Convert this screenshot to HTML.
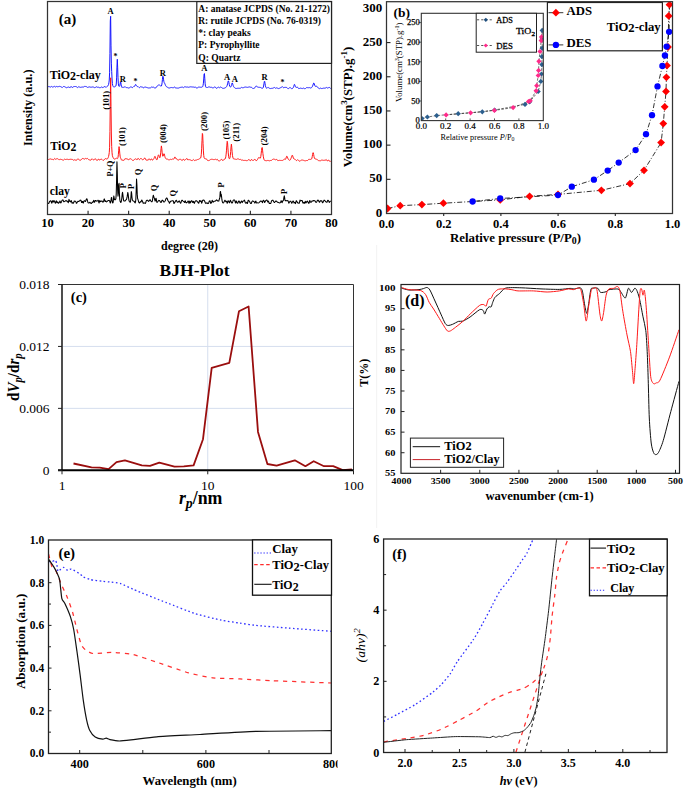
<!DOCTYPE html>
<html><head><meta charset="utf-8"><style>
html,body{margin:0;padding:0;background:#fff;}
body{width:685px;height:790px;overflow:hidden;font-family:"Liberation Serif",serif;}
svg{display:block;}
</style></head><body>
<svg width="685" height="790" viewBox="0 0 685 790">
<rect x="0" y="0" width="685" height="790" fill="#fff"/>
<polyline points="48.00,86.72 48.35,86.63 48.70,86.55 49.05,86.46 49.40,86.67 49.75,86.92 50.10,87.18 50.45,87.04 50.80,86.75 51.15,86.46 51.50,86.47 51.85,86.70 52.20,86.94 52.55,87.04 52.90,86.96 53.25,86.87 53.60,86.77 53.95,86.61 54.30,86.46 54.65,86.35 55.00,86.59 55.35,86.82 55.70,87.05 56.05,86.81 56.40,86.57 56.75,86.33 57.10,86.47 57.45,86.68 57.80,86.88 58.15,86.81 58.50,86.62 58.85,86.44 59.20,86.37 59.55,86.38 59.90,86.39 60.25,86.47 60.60,86.64 60.95,86.81 61.30,86.99 61.65,87.20 62.00,87.41 62.35,87.53 62.70,87.18 63.05,86.82 63.40,86.46 63.75,86.52 64.10,86.57 64.45,86.62 64.80,86.80 65.15,87.01 65.50,87.22 65.85,87.40 66.20,87.56 66.55,87.72 66.90,87.69 67.25,87.50 67.60,87.31 67.95,87.17 68.30,87.08 68.65,86.99 69.00,87.01 69.35,87.30 69.70,87.60 70.05,87.79 70.40,87.31 70.75,86.84 71.10,86.37 71.45,86.79 71.80,87.20 72.15,87.62 72.50,87.43 72.85,87.14 73.20,86.85 73.55,86.72 73.90,86.64 74.25,86.57 74.60,86.53 74.95,86.52 75.30,86.51 75.65,86.54 76.00,86.64 76.35,86.74 76.70,86.89 77.05,87.15 77.40,87.41 77.75,87.58 78.10,87.26 78.45,86.94 78.80,86.62 79.15,86.82 79.50,87.03 79.85,87.23 80.20,87.29 80.55,87.32 80.90,87.35 81.25,87.26 81.60,87.13 81.95,86.99 82.30,86.99 82.65,87.08 83.00,87.17 83.35,87.11 83.70,86.87 84.05,86.62 84.40,86.45 84.75,86.45 85.10,86.45 85.45,86.46 85.80,86.53 86.15,86.61 86.50,86.68 86.85,86.93 87.20,87.17 87.55,87.41 87.90,87.34 88.25,87.21 88.60,87.08 88.95,87.00 89.30,86.95 89.65,86.89 90.00,86.95 90.35,87.09 90.70,87.22 91.05,87.28 91.40,87.21 91.75,87.14 92.10,87.07 92.45,86.99 92.80,86.92 93.15,86.89 93.50,87.14 93.85,87.39 94.20,87.64 94.55,87.60 94.90,87.55 95.25,87.50 95.60,87.29 95.95,87.06 96.30,86.83 96.65,86.88 97.00,87.05 97.35,87.22 97.70,87.28 98.05,87.25 98.40,87.23 98.75,87.29 99.10,87.46 99.45,87.64 99.80,87.74 100.15,87.67 100.50,87.59 100.85,87.49 101.20,87.27 101.55,87.04 101.90,86.81 102.25,87.15 102.60,87.50 102.95,87.84 103.30,87.51 103.65,87.06 104.00,86.61 104.35,86.58 104.70,86.71 105.05,86.85 105.40,86.98 105.75,87.12 106.10,87.26 106.45,87.17 106.80,86.79 107.15,86.37 107.50,86.02 107.85,85.86 108.20,85.45 108.55,84.59 108.90,82.86 109.25,80.04 109.60,72.76 109.95,53.36 110.30,20.93 110.65,16.27 111.00,45.86 111.35,63.13 111.70,71.53 112.05,78.97 112.40,83.62 112.75,85.61 113.10,86.36 113.45,86.78 113.80,87.07 114.15,87.11 114.50,86.85 114.85,86.56 115.20,86.34 115.55,86.37 115.90,85.99 116.25,84.00 116.60,77.87 116.95,67.12 117.30,59.28 117.65,67.08 118.00,77.78 118.35,83.86 118.70,85.95 119.05,86.42 119.40,86.30 119.75,85.66 120.10,84.01 120.45,81.91 120.80,82.34 121.15,84.83 121.50,86.68 121.85,87.39 122.20,87.39 122.55,87.23 122.90,87.13 123.25,87.25 123.60,87.37 123.95,87.43 124.30,87.13 124.65,86.84 125.00,86.54 125.35,86.87 125.70,87.21 126.05,87.54 126.40,87.57 126.75,87.55 127.10,87.52 127.45,87.65 127.80,87.83 128.15,88.01 128.50,88.03 128.85,87.95 129.20,87.86 129.55,87.70 129.90,87.43 130.25,87.16 130.60,86.98 130.95,87.03 131.30,87.08 131.65,87.14 132.00,87.29 132.35,87.43 132.70,87.57 133.05,87.23 133.40,86.87 133.75,86.48 134.10,86.47 134.45,86.36 134.80,86.03 135.15,85.27 135.50,84.57 135.85,84.60 136.20,85.22 136.55,85.86 136.90,86.29 137.25,86.52 137.60,86.60 137.95,86.61 138.30,86.72 138.65,87.09 139.00,87.46 139.35,87.73 139.70,87.41 140.05,87.09 140.40,86.77 140.75,86.83 141.10,86.89 141.45,86.96 141.80,87.03 142.15,87.11 142.50,87.18 142.85,87.38 143.20,87.63 143.55,87.87 143.90,87.75 144.25,87.35 144.60,86.95 144.95,86.80 145.30,86.99 145.65,87.18 146.00,87.33 146.35,87.38 146.70,87.43 147.05,87.50 147.40,87.67 147.75,87.84 148.10,88.01 148.45,87.98 148.80,87.95 149.15,87.92 149.50,87.93 149.85,87.95 150.20,87.98 150.55,87.77 150.90,87.47 151.25,87.17 151.60,87.08 151.95,87.15 152.30,87.22 152.65,87.25 153.00,87.21 153.35,87.18 153.70,87.23 154.05,87.49 154.40,87.75 154.75,87.97 155.10,87.98 155.45,87.98 155.80,87.95 156.15,87.45 156.50,86.91 156.85,86.32 157.20,86.05 157.55,85.80 157.90,85.51 158.25,85.24 158.60,85.02 158.95,84.92 159.30,84.98 159.65,85.17 160.00,85.42 160.35,85.72 160.70,86.04 161.05,86.21 161.40,86.00 161.75,84.97 162.10,82.74 162.45,79.39 162.80,76.24 163.15,76.58 163.50,79.18 163.85,81.39 164.20,82.54 164.55,83.06 164.90,83.82 165.25,84.69 165.60,85.54 165.95,86.12 166.30,86.52 166.65,86.78 167.00,87.01 167.35,87.22 167.70,87.38 168.05,87.56 168.40,87.78 168.75,88.00 169.10,88.11 169.45,87.99 169.80,87.87 170.15,87.75 170.50,87.67 170.85,87.58 171.20,87.50 171.55,87.56 171.90,87.61 172.25,87.67 172.60,87.71 172.95,87.74 173.30,87.77 173.65,87.56 174.00,87.25 174.35,86.93 174.70,87.04 175.05,87.48 175.40,87.91 175.75,88.13 176.10,88.08 176.45,88.02 176.80,87.99 177.15,88.04 177.50,88.09 177.85,88.13 178.20,88.09 178.55,88.05 178.90,88.02 179.25,87.81 179.60,87.61 179.95,87.40 180.30,87.38 180.65,87.38 181.00,87.39 181.35,87.28 181.70,87.14 182.05,86.99 182.40,87.08 182.75,87.35 183.10,87.62 183.45,87.65 183.80,87.36 184.15,87.07 184.50,86.87 184.85,86.87 185.20,86.88 185.55,86.89 185.90,86.96 186.25,87.04 186.60,87.11 186.95,87.09 187.30,87.07 187.65,87.04 188.00,87.12 188.35,87.21 188.70,87.30 189.05,87.23 189.40,87.08 189.75,86.94 190.10,86.86 190.45,86.83 190.80,86.81 191.15,86.83 191.50,86.91 191.85,86.98 192.20,87.03 192.55,87.01 192.90,86.98 193.25,86.98 193.60,87.12 193.95,87.25 194.30,87.38 194.65,87.21 195.00,87.04 195.35,86.87 195.70,87.21 196.05,87.65 196.40,88.08 196.75,88.11 197.10,87.97 197.45,87.84 197.80,87.65 198.15,87.41 198.50,87.17 198.85,87.05 199.20,87.10 199.55,87.14 199.90,87.19 200.25,87.22 200.60,87.26 200.95,87.28 201.30,87.26 201.65,87.23 202.00,87.18 202.35,86.94 202.70,86.51 203.05,85.43 203.40,83.22 203.75,78.97 204.10,73.95 204.45,73.56 204.80,78.78 205.15,83.74 205.50,86.42 205.85,87.27 206.20,87.37 206.55,87.35 206.90,87.43 207.25,87.48 207.60,87.46 207.95,87.28 208.30,87.10 208.65,86.94 209.00,86.96 209.35,86.98 209.70,87.00 210.05,87.12 210.40,87.25 210.75,87.38 211.10,87.37 211.45,87.33 211.80,87.30 212.15,87.49 212.50,87.78 212.85,88.07 213.20,88.01 213.55,87.67 213.90,87.33 214.25,87.11 214.60,87.04 214.95,86.97 215.30,87.06 215.65,87.53 216.00,88.01 216.35,88.38 216.70,88.17 217.05,87.95 217.40,87.74 217.75,87.55 218.10,87.35 218.45,87.16 218.80,87.31 219.15,87.51 219.50,87.71 219.85,87.58 220.20,87.32 220.55,87.05 220.90,87.09 221.25,87.34 221.60,87.59 221.95,87.84 222.30,88.06 222.65,88.29 223.00,88.43 223.35,88.37 223.70,88.30 224.05,88.23 224.40,88.14 224.75,88.04 225.10,87.93 225.45,87.67 225.80,87.39 226.15,87.02 226.50,86.74 226.85,86.21 227.20,85.29 227.55,83.87 227.90,82.20 228.25,80.88 228.60,81.12 228.95,82.73 229.30,84.59 229.65,86.00 230.00,86.74 230.35,87.02 230.70,86.92 231.05,86.51 231.40,85.58 231.75,84.26 232.10,82.94 232.45,83.09 232.80,84.25 233.15,85.54 233.50,86.42 233.85,86.87 234.20,87.34 234.55,87.73 234.90,88.08 235.25,88.25 235.60,88.36 235.95,88.46 236.30,88.47 236.65,88.41 237.00,88.35 237.35,88.31 237.70,88.29 238.05,88.27 238.40,88.26 238.75,88.27 239.10,88.28 239.45,88.28 239.80,88.25 240.15,88.21 240.50,88.17 240.85,87.91 241.20,87.65 241.55,87.39 241.90,87.49 242.25,87.63 242.60,87.78 242.95,87.77 243.30,87.69 243.65,87.61 244.00,87.48 244.35,87.31 244.70,87.14 245.05,87.05 245.40,87.05 245.75,87.04 246.10,87.07 246.45,87.20 246.80,87.31 247.15,87.39 247.50,87.34 247.85,87.24 248.20,87.10 248.55,87.13 248.90,87.10 249.25,87.03 249.60,86.90 249.95,86.89 250.30,87.11 250.65,87.21 251.00,87.24 251.35,87.25 251.70,87.49 252.05,87.89 252.40,88.23 252.75,88.43 253.10,88.46 253.45,88.46 253.80,88.41 254.15,88.27 254.50,88.07 254.85,87.78 255.20,87.19 255.55,86.62 255.90,86.15 256.25,86.13 256.60,86.29 256.95,86.51 257.30,86.77 257.65,87.00 258.00,87.16 258.35,87.26 258.70,87.30 259.05,87.32 259.40,87.33 259.75,87.34 260.10,87.35 260.45,87.44 260.80,87.65 261.15,87.86 261.50,88.04 261.85,88.16 262.20,88.26 262.55,88.29 262.90,88.03 263.25,87.39 263.60,86.07 263.95,83.86 264.30,81.57 264.65,81.18 265.00,83.23 265.35,85.42 265.70,86.91 266.05,87.69 266.40,88.03 266.75,88.21 267.10,88.08 267.45,87.74 267.80,87.40 268.15,87.33 268.50,87.63 268.85,87.93 269.20,88.19 269.55,88.32 269.90,88.45 270.25,88.56 270.60,88.50 270.95,88.43 271.30,88.37 271.65,88.36 272.00,88.35 272.35,88.33 272.70,88.21 273.05,88.08 273.40,87.94 273.75,87.79 274.10,87.64 274.45,87.49 274.80,87.61 275.15,87.92 275.50,88.23 275.85,88.31 276.20,88.08 276.55,87.85 276.90,87.75 277.25,87.99 277.60,88.23 277.95,88.45 278.30,88.53 278.65,88.62 279.00,88.70 279.35,88.40 279.70,88.10 280.05,87.80 280.40,87.72 280.75,87.64 281.10,87.45 281.45,87.28 281.80,87.03 282.15,86.75 282.50,86.67 282.85,87.00 283.20,87.46 283.55,87.72 283.90,87.70 284.25,87.55 284.60,87.39 284.95,87.40 285.30,87.39 285.65,87.38 286.00,87.39 286.35,87.41 286.70,87.43 287.05,87.81 287.40,88.20 287.75,88.58 288.10,88.60 288.45,88.55 288.80,88.50 289.15,88.24 289.50,87.91 289.85,87.57 290.20,87.62 290.55,87.97 290.90,88.31 291.25,88.53 291.60,88.60 291.95,88.66 292.30,88.64 292.65,88.38 293.00,88.00 293.35,87.37 293.70,86.44 294.05,85.28 294.40,84.35 294.75,84.70 295.10,85.77 295.45,86.81 295.80,87.28 296.15,87.42 296.50,87.36 296.85,87.32 297.20,87.29 297.55,87.25 297.90,87.51 298.25,88.01 298.60,88.50 298.95,88.71 299.30,88.56 299.65,88.40 300.00,88.26 300.35,88.20 300.70,88.14 301.05,88.12 301.40,88.33 301.75,88.54 302.10,88.75 302.45,88.50 302.80,88.24 303.15,87.99 303.50,88.15 303.85,88.37 304.20,88.60 304.55,88.64 304.90,88.62 305.25,88.60 305.60,88.41 305.95,88.10 306.30,87.78 306.65,87.61 307.00,87.63 307.35,87.65 307.70,87.67 308.05,87.69 308.40,87.71 308.75,87.72 309.10,87.69 309.45,87.65 309.80,87.62 310.15,87.78 310.50,87.94 310.85,88.09 311.20,87.91 311.55,87.62 311.90,87.20 312.25,86.73 312.60,86.04 312.95,85.10 313.30,83.93 313.65,83.07 314.00,83.16 314.35,84.06 314.70,85.21 315.05,86.08 315.40,86.44 315.75,86.16 316.10,85.96 316.45,86.02 316.80,86.48 317.15,86.94 317.50,87.33 317.85,87.66 318.20,87.90 318.55,88.07 318.90,88.29 319.25,88.49 319.60,88.67 319.95,88.56 320.30,88.32 320.65,88.09 321.00,88.13 321.35,88.39 321.70,88.65 322.05,88.71 322.40,88.50 322.75,88.29 323.10,88.15 323.45,88.17 323.80,88.19 324.15,88.20 324.50,88.20 324.85,88.20 325.20,88.20 325.55,87.94 325.90,87.69 326.25,87.43 326.60,87.58 326.95,87.80 327.30,88.02 327.65,87.99 328.00,87.86 328.35,87.73 328.70,87.62 329.05,87.53 329.40,87.44 329.75,87.57 330.10,87.97 330.45,88.38 330.80,88.58" fill="none" stroke="#1414ff" stroke-width="1.0" stroke-linejoin="round" />
<polyline points="48.00,159.70 48.35,159.58 48.70,159.46 49.05,159.35 49.40,159.19 49.75,159.03 50.10,158.87 50.45,158.93 50.80,159.06 51.15,159.20 51.50,159.27 51.85,159.30 52.20,159.33 52.55,159.41 52.90,159.57 53.25,159.73 53.60,159.71 53.95,159.24 54.30,158.77 54.65,158.41 55.00,158.73 55.35,159.05 55.70,159.37 56.05,159.15 56.40,158.93 56.75,158.72 57.10,158.70 57.45,158.72 57.80,158.75 58.15,159.00 58.50,159.35 58.85,159.70 59.20,159.74 59.55,159.56 59.90,159.37 60.25,159.29 60.60,159.32 60.95,159.36 61.30,159.43 61.65,159.57 62.00,159.71 62.35,159.85 62.70,159.96 63.05,160.06 63.40,160.17 63.75,159.85 64.10,159.52 64.45,159.19 64.80,159.25 65.15,159.37 65.50,159.49 65.85,159.47 66.20,159.40 66.55,159.32 66.90,159.29 67.25,159.30 67.60,159.31 67.95,159.36 68.30,159.49 68.65,159.62 69.00,159.66 69.35,159.50 69.70,159.33 70.05,159.20 70.40,159.25 70.75,159.31 71.10,159.37 71.45,159.33 71.80,159.30 72.15,159.26 72.50,159.53 72.85,159.86 73.20,160.18 73.55,160.16 73.90,159.99 74.25,159.82 74.60,159.82 74.95,159.95 75.30,160.07 75.65,160.16 76.00,160.21 76.35,160.26 76.70,160.16 77.05,159.68 77.40,159.20 77.75,158.82 78.10,159.04 78.45,159.25 78.80,159.46 79.15,159.73 79.50,160.00 79.85,160.27 80.20,160.25 80.55,160.17 80.90,160.10 81.25,159.73 81.60,159.24 81.95,158.75 82.30,158.54 82.65,158.53 83.00,158.52 83.35,158.61 83.70,158.83 84.05,159.06 84.40,159.15 84.75,158.89 85.10,158.63 85.45,158.43 85.80,158.55 86.15,158.67 86.50,158.78 86.85,158.67 87.20,158.55 87.55,158.44 87.90,158.78 88.25,159.20 88.60,159.61 88.95,159.79 89.30,159.87 89.65,159.95 90.00,160.04 90.35,160.12 90.70,160.20 91.05,160.02 91.40,159.50 91.75,158.98 92.10,158.72 92.45,159.12 92.80,159.51 93.15,159.84 93.50,159.80 93.85,159.77 94.20,159.73 94.55,159.37 94.90,159.00 95.25,158.64 95.60,159.03 95.95,159.55 96.30,160.07 96.65,160.26 97.00,160.32 97.35,160.38 97.70,160.10 98.05,159.58 98.40,159.06 98.75,158.98 99.10,159.49 99.45,160.00 99.80,160.25 100.15,159.86 100.50,159.47 100.85,159.15 101.20,159.21 101.55,159.26 101.90,159.32 102.25,159.67 102.60,160.01 102.95,160.36 103.30,160.31 103.65,160.19 104.00,160.06 104.35,159.68 104.70,159.20 105.05,158.71 105.40,158.59 105.75,158.74 106.10,158.89 106.45,158.97 106.80,158.96 107.15,158.91 107.50,158.74 107.85,158.30 108.20,157.60 108.55,156.53 108.90,154.99 109.25,152.66 109.60,147.31 109.95,131.47 110.30,98.93 110.65,77.79 111.00,106.40 111.35,133.01 111.70,146.60 112.05,152.79 112.40,155.72 112.75,156.88 113.10,157.56 113.45,158.23 113.80,158.77 114.15,159.05 114.50,159.05 114.85,159.02 115.20,158.92 115.55,158.65 115.90,158.36 116.25,158.14 116.60,158.34 116.95,158.51 117.30,158.61 117.65,158.40 118.00,157.36 118.35,154.71 118.70,150.24 119.05,146.62 119.40,148.77 119.75,153.15 120.10,156.23 120.45,157.57 120.80,158.40 121.15,159.24 121.50,159.97 121.85,160.33 122.20,160.22 122.55,160.11 122.90,160.07 123.25,160.21 123.60,160.36 123.95,160.39 124.30,159.79 124.65,159.19 125.00,158.59 125.35,158.71 125.70,158.83 126.05,158.95 126.40,158.83 126.75,158.68 127.10,158.53 127.45,158.85 127.80,159.37 128.15,159.90 128.50,159.92 128.85,159.56 129.20,159.21 129.55,158.97 129.90,158.87 130.25,158.77 130.60,158.76 130.95,158.97 131.30,159.18 131.65,159.40 132.00,159.75 132.35,160.09 132.70,160.44 133.05,160.37 133.40,160.31 133.75,160.24 134.10,159.90 134.45,159.50 134.80,159.11 135.15,158.94 135.50,158.86 135.85,158.76 136.20,159.00 136.55,159.43 136.90,159.75 137.25,159.60 137.60,158.93 137.95,158.40 138.30,158.43 138.65,158.94 139.00,159.42 139.35,159.69 139.70,159.40 140.05,159.03 140.40,158.63 140.75,158.62 141.10,158.60 141.45,158.58 141.80,158.96 142.15,159.40 142.50,159.84 142.85,159.82 143.20,159.61 143.55,159.36 143.90,159.00 144.25,158.52 144.60,157.98 144.95,157.91 145.30,158.63 145.65,159.52 146.00,160.15 146.35,160.11 146.70,159.99 147.05,159.86 147.40,160.00 147.75,160.12 148.10,160.24 148.45,159.74 148.80,159.24 149.15,158.74 149.50,159.13 149.85,159.67 150.20,160.21 150.55,159.97 150.90,159.41 151.25,158.85 151.60,158.93 151.95,159.48 152.30,160.02 152.65,160.19 153.00,159.85 153.35,159.43 153.70,158.90 154.05,158.26 154.40,157.38 154.75,156.49 155.10,156.42 155.45,157.22 155.80,158.20 156.15,159.10 156.50,159.68 156.85,159.95 157.20,159.26 157.55,158.08 157.90,156.55 158.25,155.23 158.60,154.81 158.95,155.55 159.30,156.70 159.65,157.59 160.00,157.63 160.35,156.15 160.70,152.82 161.05,148.50 161.40,145.90 161.75,148.21 162.10,152.16 162.45,155.04 162.80,156.28 163.15,156.04 163.50,154.96 163.85,153.77 164.20,153.87 164.55,155.15 164.90,156.63 165.25,157.75 165.60,158.42 165.95,158.77 166.30,158.96 166.65,159.09 167.00,159.15 167.35,159.17 167.70,159.18 168.05,159.33 168.40,159.65 168.75,159.98 169.10,160.12 169.45,159.80 169.80,159.48 170.15,159.22 170.50,159.37 170.85,159.52 171.20,159.67 171.55,159.45 171.90,159.23 172.25,159.00 172.60,159.07 172.95,159.18 173.30,159.28 173.65,159.11 174.00,158.69 174.35,157.98 174.70,157.18 175.05,156.93 175.40,157.75 175.75,158.51 176.10,158.73 176.45,158.70 176.80,158.76 177.15,159.28 177.50,159.79 177.85,160.21 178.20,160.09 178.55,159.96 178.90,159.84 179.25,159.59 179.60,159.34 179.95,159.09 180.30,159.22 180.65,159.43 181.00,159.63 181.35,159.92 181.70,160.24 182.05,160.56 182.40,160.37 182.75,159.79 183.10,159.21 183.45,159.09 183.80,159.59 184.15,160.09 184.50,160.36 184.85,160.09 185.20,159.80 185.55,159.53 185.90,159.43 186.25,159.14 186.60,158.67 186.95,158.50 187.30,159.00 187.65,159.77 188.00,159.93 188.35,159.81 188.70,159.57 189.05,159.56 189.40,159.65 189.75,159.74 190.10,159.85 190.45,159.98 190.80,160.11 191.15,160.27 191.50,160.48 191.85,160.68 192.20,160.70 192.55,160.26 192.90,159.81 193.25,159.47 193.60,159.81 193.95,160.16 194.30,160.50 194.65,160.41 195.00,160.32 195.35,160.22 195.70,160.16 196.05,160.11 196.40,160.05 196.75,159.91 197.10,159.74 197.45,159.57 197.80,159.46 198.15,159.40 198.50,159.33 198.85,159.18 199.20,158.93 199.55,158.66 199.90,158.43 200.25,158.32 200.60,158.00 200.95,156.99 201.30,154.28 201.65,148.82 202.00,140.68 202.35,133.46 202.70,134.72 203.05,143.34 203.40,150.93 203.75,155.58 204.10,157.61 204.45,158.37 204.80,158.64 205.15,158.72 205.50,158.76 205.85,158.77 206.20,158.76 206.55,158.99 206.90,159.55 207.25,160.10 207.60,160.51 207.95,160.54 208.30,160.57 208.65,160.58 209.00,160.45 209.35,160.32 209.70,160.19 210.05,159.92 210.40,159.66 210.75,159.39 211.10,159.33 211.45,159.31 211.80,159.28 212.15,159.30 212.50,159.34 212.85,159.38 213.20,159.46 213.55,159.58 213.90,159.70 214.25,159.68 214.60,159.47 214.95,159.26 215.30,159.17 215.65,159.37 216.00,159.57 216.35,159.73 216.70,159.60 217.05,159.47 217.40,159.35 217.75,159.83 218.10,160.32 218.45,160.81 218.80,160.89 219.15,160.89 219.50,160.90 219.85,160.68 220.20,160.38 220.55,160.08 220.90,159.83 221.25,159.61 221.60,159.39 221.95,159.47 222.30,159.96 222.65,160.45 223.00,160.66 223.35,160.18 223.70,159.69 224.05,159.25 224.40,159.23 224.75,159.16 225.10,158.99 225.45,158.26 225.80,156.83 226.15,154.11 226.50,150.18 226.85,145.14 227.20,141.29 227.55,142.73 227.90,147.87 228.25,152.84 228.60,156.24 228.95,158.03 229.30,158.73 229.65,158.64 230.00,157.66 230.35,155.38 230.70,151.49 231.05,146.81 231.40,144.15 231.75,147.21 232.10,151.81 232.45,155.32 232.80,157.14 233.15,158.25 233.50,158.77 233.85,159.09 234.20,159.09 234.55,159.02 234.90,158.93 235.25,159.08 235.60,159.32 235.95,159.56 236.30,159.52 236.65,159.28 237.00,159.04 237.35,158.91 237.70,158.90 238.05,158.89 238.40,158.95 238.75,159.15 239.10,159.35 239.45,159.52 239.80,159.47 240.15,159.43 240.50,159.38 240.85,159.63 241.20,159.88 241.55,160.13 241.90,160.14 242.25,160.10 242.60,160.06 242.95,160.17 243.30,160.32 243.65,160.48 244.00,160.51 244.35,160.45 244.70,160.39 245.05,160.37 245.40,160.41 245.75,160.45 246.10,160.52 246.45,160.63 246.80,160.75 247.15,160.80 247.50,160.46 247.85,160.11 248.20,159.77 248.55,159.73 248.90,159.69 249.25,159.64 249.60,160.03 249.95,160.49 250.30,160.95 250.65,160.67 251.00,160.08 251.35,159.50 251.70,159.47 252.05,159.88 252.40,160.28 252.75,160.48 253.10,160.42 253.45,160.36 253.80,160.19 254.15,159.77 254.50,159.34 254.85,159.05 255.20,159.59 255.55,160.12 255.90,160.64 256.25,160.61 256.60,160.53 256.95,160.37 257.30,159.90 257.65,159.28 258.00,158.55 258.35,157.94 258.70,157.49 259.05,157.35 259.40,157.63 259.75,158.09 260.10,158.39 260.45,157.98 260.80,156.43 261.15,153.84 261.50,150.58 261.85,147.90 262.20,147.47 262.55,150.12 262.90,153.41 263.25,156.18 263.60,158.03 263.95,159.29 264.30,160.00 264.65,160.45 265.00,160.56 265.35,160.60 265.70,160.61 266.05,160.65 266.40,160.69 266.75,160.72 267.10,160.65 267.45,160.49 267.80,160.33 268.15,160.33 268.50,160.56 268.85,160.78 269.20,160.90 269.55,160.76 269.90,160.62 270.25,160.50 270.60,160.51 270.95,160.52 271.30,160.53 271.65,160.21 272.00,159.89 272.35,159.57 272.70,159.41 273.05,159.27 273.40,159.13 273.75,159.15 274.10,159.22 274.45,159.29 274.80,159.42 275.15,159.58 275.50,159.74 275.85,159.75 276.20,159.58 276.55,159.40 276.90,159.42 277.25,159.93 277.60,160.44 277.95,160.86 278.30,160.66 278.65,160.47 279.00,160.28 279.35,160.32 279.70,160.37 280.05,160.42 280.40,160.43 280.75,160.42 281.10,160.42 281.45,160.45 281.80,160.48 282.15,160.52 282.50,160.45 282.85,160.31 283.20,160.16 283.55,159.93 283.90,159.56 284.25,159.17 284.60,158.98 284.95,159.31 285.30,159.43 285.65,159.19 286.00,158.18 286.35,157.05 286.70,156.27 287.05,156.33 287.40,157.13 287.75,158.03 288.10,158.89 288.45,159.49 288.80,159.84 289.15,160.07 289.50,160.21 289.85,160.31 290.20,160.05 290.55,159.47 290.90,158.62 291.25,157.73 291.60,156.85 291.95,155.74 292.30,155.12 292.65,155.65 293.00,156.90 293.35,157.95 293.70,158.70 294.05,159.02 294.40,159.08 294.75,159.29 295.10,159.46 295.45,159.62 295.80,159.93 296.15,160.27 296.50,160.60 296.85,160.44 297.20,160.08 297.55,159.72 297.90,159.78 298.25,160.16 298.60,160.54 298.95,160.83 299.30,161.00 299.65,161.16 300.00,161.19 300.35,160.85 300.70,160.52 301.05,160.22 301.40,160.14 301.75,160.07 302.10,159.99 302.45,160.06 302.80,160.13 303.15,160.20 303.50,160.33 303.85,160.48 304.20,160.62 304.55,160.70 304.90,160.76 305.25,160.82 305.60,160.78 305.95,160.68 306.30,160.57 306.65,160.52 307.00,160.53 307.35,160.55 307.70,160.44 308.05,160.04 308.40,159.64 308.75,159.30 309.10,159.34 309.45,159.37 309.80,159.39 310.15,159.43 310.50,159.43 310.85,159.34 311.20,159.30 311.55,158.98 311.90,158.21 312.25,156.51 312.60,154.40 312.95,152.69 313.30,152.80 313.65,154.51 314.00,156.50 314.35,157.95 314.70,158.61 315.05,158.84 315.40,158.88 315.75,159.07 316.10,159.17 316.45,159.26 316.80,159.43 317.15,159.59 317.50,159.75 317.85,160.05 318.20,160.34 318.55,160.63 318.90,160.69 319.25,160.71 319.60,160.73 319.95,160.73 320.30,160.73 320.65,160.72 321.00,160.56 321.35,160.30 321.70,160.03 322.05,159.95 322.40,160.11 322.75,160.27 323.10,160.37 323.45,160.34 323.80,160.31 324.15,160.28 324.50,160.28 324.85,160.28 325.20,160.29 325.55,160.05 325.90,159.81 326.25,159.56 326.60,160.00 326.95,160.54 327.30,161.09 327.65,160.89 328.00,160.41 328.35,159.93 328.70,160.03 329.05,160.58 329.40,161.13 329.75,161.43 330.10,161.40 330.45,161.37 330.80,161.17" fill="none" stroke="#ff1414" stroke-width="1.0" stroke-linejoin="round" />
<polyline points="48.00,203.01 48.35,203.28 48.70,203.54 49.05,202.79 49.40,201.87 49.75,201.38 50.10,201.06 50.45,200.86 50.80,200.75 51.15,201.25 51.50,202.56 51.85,203.12 52.20,201.82 52.55,200.79 52.90,201.45 53.25,202.11 53.60,201.33 53.95,200.55 54.30,201.02 54.65,201.69 55.00,202.43 55.35,203.19 55.70,202.69 56.05,201.23 56.40,200.92 56.75,202.14 57.10,202.86 57.45,202.30 57.80,201.93 58.15,202.60 58.50,203.27 58.85,202.94 59.20,202.61 59.55,201.85 59.90,201.01 60.25,201.62 60.60,202.80 60.95,202.89 61.30,202.16 61.65,201.39 62.00,200.57 62.35,199.98 62.70,199.94 63.05,200.03 63.40,200.89 63.75,201.76 64.10,201.69 64.45,201.61 64.80,201.38 65.15,201.11 65.50,200.83 65.85,200.54 66.20,200.62 66.55,200.98 66.90,201.16 67.25,201.11 67.60,201.33 67.95,202.23 68.30,202.76 68.65,201.14 69.00,199.39 69.35,200.34 69.70,201.24 70.05,201.39 70.40,201.83 70.75,201.40 71.10,200.48 71.45,200.97 71.80,202.50 72.15,203.20 72.50,202.84 72.85,202.67 73.20,203.01 73.55,203.15 73.90,202.07 74.25,200.98 74.60,201.13 74.95,201.28 75.30,201.33 75.65,201.37 76.00,202.15 76.35,203.22 76.70,203.27 77.05,202.54 77.40,201.95 77.75,201.55 78.10,201.29 78.45,201.41 78.80,201.47 79.15,201.20 79.50,200.93 79.85,200.53 80.20,200.13 80.55,200.15 80.90,200.24 81.25,201.20 81.60,202.50 81.95,202.49 82.30,201.52 82.65,201.45 83.00,202.60 83.35,203.07 83.70,201.85 84.05,200.80 84.40,200.82 84.75,200.83 85.10,201.20 85.45,201.50 85.80,200.77 86.15,199.67 86.50,199.04 86.85,198.75 87.20,199.54 87.55,201.23 87.90,202.45 88.25,202.82 88.60,202.97 88.95,202.96 89.30,202.86 89.65,202.55 90.00,202.24 90.35,202.75 90.70,203.26 91.05,203.37 91.40,203.42 91.75,202.94 92.10,202.24 92.45,202.12 92.80,202.41 93.15,202.07 93.50,200.87 93.85,200.35 94.20,201.50 94.55,202.32 94.90,201.53 95.25,200.56 95.60,200.52 95.95,200.67 96.30,200.82 96.65,201.19 97.00,201.19 97.35,200.90 97.70,200.57 98.05,200.22 98.40,200.68 98.75,202.25 99.10,202.96 99.45,201.54 99.80,200.42 100.15,201.03 100.50,201.64 100.85,201.40 101.20,201.17 101.55,201.05 101.90,200.93 102.25,201.39 102.60,201.97 102.95,202.15 103.30,201.95 103.65,200.93 104.00,199.27 104.35,198.95 104.70,200.37 105.05,201.50 105.40,201.26 105.75,200.83 106.10,201.37 106.45,201.85 106.80,201.68 107.15,201.40 107.50,201.03 107.85,200.63 108.20,200.45 108.55,200.44 108.90,200.46 109.25,200.53 109.60,200.93 109.95,202.14 110.30,203.05 110.65,202.10 111.00,200.32 111.35,197.66 111.70,197.45 112.05,200.48 112.40,202.52 112.75,203.01 113.10,202.50 113.45,199.58 113.80,195.92 114.15,197.76 114.50,199.57 114.85,199.79 115.20,199.85 115.55,199.65 115.90,198.52 116.25,193.59 116.60,179.33 116.95,161.75 117.30,173.38 117.65,190.30 118.00,196.21 118.35,193.25 118.70,184.36 119.05,183.30 119.40,193.15 119.75,199.23 120.10,201.26 120.45,202.10 120.80,202.55 121.15,201.97 121.50,200.64 121.85,197.73 122.20,193.96 122.55,192.36 122.90,194.82 123.25,198.05 123.60,200.23 123.95,201.03 124.30,201.06 124.65,200.96 125.00,200.92 125.35,200.72 125.70,200.19 126.05,199.67 126.40,199.53 126.75,198.48 127.10,196.91 127.45,194.59 127.80,192.42 128.15,194.00 128.50,197.34 128.85,200.00 129.20,201.23 129.55,201.70 129.90,202.02 130.25,202.21 130.60,201.03 130.95,196.66 131.30,191.49 131.65,193.20 132.00,197.59 132.35,199.81 132.70,200.40 133.05,200.77 133.40,201.08 133.75,201.22 134.10,201.29 134.45,201.80 134.80,202.62 135.15,202.90 135.50,202.13 135.85,199.11 136.20,190.16 136.55,178.96 136.90,184.84 137.25,194.14 137.60,198.46 137.95,199.41 138.30,200.67 138.65,201.98 139.00,202.62 139.35,203.00 139.70,202.74 140.05,202.01 140.40,201.68 140.75,201.90 141.10,201.75 141.45,200.72 141.80,199.93 142.15,200.63 142.50,201.33 142.85,202.28 143.20,203.23 143.55,203.21 143.90,203.03 144.25,203.02 144.60,203.07 144.95,203.21 145.30,203.42 145.65,202.98 146.00,201.69 146.35,200.70 146.70,200.44 147.05,200.23 147.40,200.29 147.75,200.34 148.10,200.91 148.45,201.36 148.80,201.27 149.15,200.81 149.50,200.23 149.85,199.82 150.20,199.86 150.55,200.38 150.90,201.03 151.25,201.54 151.60,201.77 151.95,201.81 152.30,201.17 152.65,199.14 153.00,196.55 153.35,195.24 153.70,196.31 154.05,197.61 154.40,198.36 154.75,199.85 155.10,201.13 155.45,200.40 155.80,198.45 156.15,198.34 156.50,200.58 156.85,202.27 157.20,202.33 157.55,202.06 157.90,201.53 158.25,200.95 158.60,200.66 158.95,200.36 159.30,200.51 159.65,200.74 160.00,201.29 160.35,201.98 160.70,202.33 161.05,202.45 161.40,202.06 161.75,201.02 162.10,200.26 162.45,200.18 162.80,200.23 163.15,201.03 163.50,201.83 163.85,201.93 164.20,202.01 164.55,201.70 164.90,201.28 165.25,200.72 165.60,199.78 165.95,198.85 166.30,198.13 166.65,197.92 167.00,198.20 167.35,198.86 167.70,200.09 168.05,200.86 168.40,201.23 168.75,201.54 169.10,202.42 169.45,203.27 169.80,202.78 170.15,201.87 170.50,201.39 170.85,201.15 171.20,200.99 171.55,200.97 171.90,200.97 172.25,200.87 172.60,200.69 172.95,200.76 173.30,200.97 173.65,202.25 174.00,203.52 174.35,203.07 174.70,202.62 175.05,201.95 175.40,201.25 175.75,200.69 176.10,200.18 176.45,200.45 176.80,201.30 177.15,201.91 177.50,202.23 177.85,202.32 178.20,201.87 178.55,201.44 178.90,201.16 179.25,200.87 179.60,201.60 179.95,202.32 180.30,202.82 180.65,203.28 181.00,202.52 181.35,201.28 181.70,200.56 182.05,200.22 182.40,200.25 182.75,200.79 183.10,201.22 183.45,201.37 183.80,201.56 184.15,202.02 184.50,202.49 184.85,201.63 185.20,200.77 185.55,201.56 185.90,202.62 186.25,202.85 186.60,202.75 186.95,202.47 187.30,202.05 187.65,201.59 188.00,201.05 188.35,201.06 188.70,202.42 189.05,203.41 189.40,202.25 189.75,201.08 190.10,201.98 190.45,202.88 190.80,202.12 191.15,201.07 191.50,200.76 191.85,200.74 192.20,201.28 192.55,202.24 192.90,202.43 193.25,201.61 193.60,201.35 193.95,202.51 194.30,203.40 194.65,202.59 195.00,201.78 195.35,201.23 195.70,200.69 196.05,200.66 196.40,200.73 196.75,200.99 197.10,201.33 197.45,201.73 197.80,202.17 198.15,202.64 198.50,203.14 198.85,203.09 199.20,201.67 199.55,200.51 199.90,200.95 200.25,201.39 200.60,201.07 200.95,200.75 201.30,201.86 201.65,203.21 202.00,202.54 202.35,201.07 202.70,200.34 203.05,200.18 203.40,200.10 203.75,200.11 204.10,200.29 204.45,200.88 204.80,201.52 205.15,202.41 205.50,203.31 205.85,203.28 206.20,203.26 206.55,203.02 206.90,202.76 207.25,203.01 207.60,203.48 207.95,203.62 208.30,203.50 208.65,202.98 209.00,201.91 209.35,201.07 209.70,200.82 210.05,200.79 210.40,202.12 210.75,203.45 211.10,203.11 211.45,202.77 211.80,201.64 212.15,200.37 212.50,200.81 212.85,201.93 213.20,202.12 213.55,201.61 213.90,201.32 214.25,201.31 214.60,201.28 214.95,201.20 215.30,201.09 215.65,200.80 216.00,200.50 216.35,200.20 216.70,199.90 217.05,200.26 217.40,200.73 217.75,200.92 218.10,200.92 218.45,201.12 218.80,201.02 219.15,199.70 219.50,198.79 219.85,197.68 220.20,192.10 220.55,191.43 220.90,196.31 221.25,194.26 221.60,196.90 221.95,199.95 222.30,201.60 222.65,202.60 223.00,202.90 223.35,202.93 223.70,202.56 224.05,201.88 224.40,201.20 224.75,200.53 225.10,200.27 225.45,201.03 225.80,201.65 226.15,201.47 226.50,201.30 226.85,202.27 227.20,203.24 227.55,202.28 227.90,200.99 228.25,200.84 228.60,201.14 228.95,201.81 229.30,202.76 229.65,202.64 230.00,201.10 230.35,200.20 230.70,200.88 231.05,201.56 231.40,202.27 231.75,202.98 232.10,202.90 232.45,202.82 232.80,201.70 233.15,200.42 233.50,200.04 233.85,200.03 234.20,200.06 234.55,200.11 234.90,200.79 235.25,202.31 235.60,203.06 235.95,201.88 236.30,201.00 236.65,201.87 237.00,202.74 237.35,203.00 237.70,203.27 238.05,202.46 238.40,201.47 238.75,201.10 239.10,200.98 239.45,201.63 239.80,202.84 240.15,203.28 240.50,202.67 240.85,202.06 241.20,201.43 241.55,201.01 241.90,201.81 242.25,202.62 242.60,201.91 242.95,201.20 243.30,201.04 243.65,200.97 244.00,200.60 244.35,200.12 244.70,200.67 245.05,202.01 245.40,202.89 245.75,203.18 246.10,203.24 246.45,202.74 246.80,202.39 247.15,202.93 247.50,203.48 247.85,201.85 248.20,200.22 248.55,200.31 248.90,200.68 249.25,201.09 249.60,201.52 249.95,202.19 250.30,203.05 250.65,203.53 251.00,203.53 251.35,203.24 251.70,202.23 252.05,201.33 252.40,201.09 252.75,200.85 253.10,201.17 253.45,201.49 253.80,201.63 254.15,201.74 254.50,202.32 254.85,203.09 255.20,202.67 255.55,201.35 255.90,201.06 256.25,202.16 256.60,202.92 256.95,202.80 257.30,202.73 257.65,202.88 258.00,203.02 258.35,202.94 258.70,202.85 259.05,202.58 259.40,202.29 259.75,201.85 260.10,201.36 260.45,201.14 260.80,201.12 261.15,201.14 261.50,201.22 261.85,201.49 262.20,202.23 262.55,202.69 262.90,201.45 263.25,200.20 263.60,200.41 263.95,200.62 264.30,201.49 264.65,202.48 265.00,202.12 265.35,201.22 265.70,200.65 266.05,200.33 266.40,200.12 266.75,200.07 267.10,200.29 267.45,201.21 267.80,201.94 268.15,201.54 268.50,201.14 268.85,202.30 269.20,203.46 269.55,203.47 269.90,203.30 270.25,203.39 270.60,203.57 270.95,202.92 271.30,201.64 271.65,200.77 272.00,200.44 272.35,200.22 272.70,200.24 273.05,200.36 273.40,201.08 273.75,201.79 274.10,202.16 274.45,202.54 274.80,202.19 275.15,201.73 275.50,201.32 275.85,200.94 276.20,200.97 276.55,201.29 276.90,201.63 277.25,201.99 277.60,202.27 277.95,202.37 278.30,202.47 278.65,202.60 279.00,202.72 279.35,202.90 279.70,203.07 280.05,202.81 280.40,202.48 280.75,201.70 281.10,200.73 281.45,201.03 281.80,202.29 282.15,202.58 282.50,201.55 282.85,200.81 283.20,200.76 283.55,199.92 283.90,197.69 284.25,195.85 284.60,197.43 284.95,200.04 285.30,200.74 285.65,200.49 286.00,200.52 286.35,200.69 286.70,200.76 287.05,200.77 287.40,200.71 287.75,200.56 288.10,200.82 288.45,202.12 288.80,203.16 289.15,202.62 289.50,202.08 289.85,201.63 290.20,201.19 290.55,201.23 290.90,201.36 291.25,202.15 291.60,203.21 291.95,203.17 292.30,202.31 292.65,201.61 293.00,201.12 293.35,201.07 293.70,202.09 294.05,202.93 294.40,202.65 294.75,202.38 295.10,202.98 295.45,203.58 295.80,202.31 296.15,200.74 296.50,200.76 296.85,201.42 297.20,202.05 297.55,202.66 297.90,203.03 298.25,203.06 298.60,203.13 298.95,203.26 299.30,203.15 299.65,201.60 300.00,200.05 300.35,200.50 300.70,200.95 301.05,200.75 301.40,200.44 301.75,200.44 302.10,200.56 302.45,201.41 302.80,202.80 303.15,203.30 303.50,202.61 303.85,202.29 304.20,202.91 304.55,203.29 304.90,202.30 305.25,201.31 305.60,202.19 305.95,203.06 306.30,202.56 306.65,201.82 307.00,201.37 307.35,201.03 307.70,201.41 308.05,202.33 308.40,202.98 308.75,203.28 309.10,203.07 309.45,201.58 309.80,200.43 310.15,201.29 310.50,202.16 310.85,202.21 311.20,202.25 311.55,201.64 311.90,200.93 312.25,200.92 312.60,201.19 312.95,201.07 313.30,200.67 313.65,200.48 314.00,200.59 314.35,200.70 314.70,200.79 315.05,200.96 315.40,201.57 315.75,202.18 316.10,202.27 316.45,202.36 316.80,201.69 317.15,200.90 317.50,200.43 317.85,200.09 318.20,200.26 318.55,200.82 318.90,201.41 319.25,202.03 319.60,202.23 319.95,201.35 320.30,200.64 320.65,200.86 321.00,201.09 321.35,200.89 321.70,200.70 322.05,201.57 322.40,202.62 322.75,202.61 323.10,202.17 323.45,201.49 323.80,200.63 324.15,200.17 324.50,200.24 324.85,200.43 325.20,200.95 325.55,201.44 325.90,201.72 326.25,201.99 326.60,202.15 326.95,202.31 327.30,201.50 327.65,200.52 328.00,200.34 328.35,200.47 328.70,201.06 329.05,202.00 329.40,202.32 329.75,201.82 330.10,201.39 330.45,201.17 330.80,200.98" fill="none" stroke="#000" stroke-width="1.05" stroke-linejoin="round" />
<rect x="47.50" y="1.50" width="284.00" height="213.00" fill="none" stroke="#333" stroke-width="1.25"/>
<text x="47.50" y="227.40" font-family="Liberation Serif" font-size="12.5" font-weight="bold" text-anchor="middle" fill="#000">10</text>
<line x1="88.07" y1="214.50" x2="88.07" y2="210.80" stroke="#222" stroke-width="1.1"/>
<text x="88.07" y="227.40" font-family="Liberation Serif" font-size="12.5" font-weight="bold" text-anchor="middle" fill="#000">20</text>
<line x1="128.64" y1="214.50" x2="128.64" y2="210.80" stroke="#222" stroke-width="1.1"/>
<text x="128.64" y="227.40" font-family="Liberation Serif" font-size="12.5" font-weight="bold" text-anchor="middle" fill="#000">30</text>
<line x1="169.21" y1="214.50" x2="169.21" y2="210.80" stroke="#222" stroke-width="1.1"/>
<text x="169.21" y="227.40" font-family="Liberation Serif" font-size="12.5" font-weight="bold" text-anchor="middle" fill="#000">40</text>
<line x1="209.79" y1="214.50" x2="209.79" y2="210.80" stroke="#222" stroke-width="1.1"/>
<text x="209.79" y="227.40" font-family="Liberation Serif" font-size="12.5" font-weight="bold" text-anchor="middle" fill="#000">50</text>
<line x1="250.36" y1="214.50" x2="250.36" y2="210.80" stroke="#222" stroke-width="1.1"/>
<text x="250.36" y="227.40" font-family="Liberation Serif" font-size="12.5" font-weight="bold" text-anchor="middle" fill="#000">60</text>
<line x1="290.93" y1="214.50" x2="290.93" y2="210.80" stroke="#222" stroke-width="1.1"/>
<text x="290.93" y="227.40" font-family="Liberation Serif" font-size="12.5" font-weight="bold" text-anchor="middle" fill="#000">70</text>
<text x="331.50" y="227.40" font-family="Liberation Serif" font-size="12.5" font-weight="bold" text-anchor="middle" fill="#000">80</text>
<text x="161.00" y="249.50" font-family="Liberation Serif" font-size="12.5" font-weight="bold" text-anchor="start" fill="#000" textLength="57" lengthAdjust="spacingAndGlyphs">degree (2θ)</text>
<text x="32.00" y="146.00" font-family="Liberation Serif" font-size="12.5" font-weight="bold" text-anchor="start" fill="#000" transform="rotate(-90 32.00 146.00)" textLength="76.5" lengthAdjust="spacingAndGlyphs">Intensity (a.u.)</text>
<text x="58.80" y="23.50" font-family="Liberation Serif" font-size="15" font-weight="bold" text-anchor="start" fill="#000">(a)</text>
<rect x="196.80" y="1.60" width="134.70" height="61.80" fill="#fff" stroke="#222" stroke-width="1.2"/>
<text x="198.30" y="11.80" font-family="Liberation Serif" font-size="9.5" font-weight="bold" text-anchor="start" fill="#000" textLength="131.5" lengthAdjust="spacingAndGlyphs">A: anatase JCPDS (No. 21-1272)</text>
<text x="198.30" y="24.00" font-family="Liberation Serif" font-size="9.5" font-weight="bold" text-anchor="start" fill="#000" textLength="122.5" lengthAdjust="spacingAndGlyphs">R: rutile JCPDS (No. 76-0319)</text>
<text x="198.30" y="36.20" font-family="Liberation Serif" font-size="9.5" font-weight="bold" text-anchor="start" fill="#000" textLength="52.4" lengthAdjust="spacingAndGlyphs">*: clay peaks</text>
<text x="198.30" y="48.40" font-family="Liberation Serif" font-size="9.5" font-weight="bold" text-anchor="start" fill="#000" textLength="61.3" lengthAdjust="spacingAndGlyphs">P: Pyrophyllite</text>
<text x="198.30" y="60.60" font-family="Liberation Serif" font-size="9.5" font-weight="bold" text-anchor="start" fill="#000" textLength="42.2" lengthAdjust="spacingAndGlyphs">Q: Quartz</text>
<text x="48.00" y="0.00" font-family="Liberation Serif" font-size="1" font-weight="bold" text-anchor="start" fill="#000"></text>
<text x="49.70" y="78.90" font-family="Liberation Serif" font-size="12.5" font-weight="bold" text-anchor="start" fill="#000" textLength="51" lengthAdjust="spacingAndGlyphs">TiO<tspan dy="1.5">2</tspan><tspan dy="-1.5">-clay</tspan></text>
<text x="50.30" y="149.70" font-family="Liberation Serif" font-size="12.5" font-weight="bold" text-anchor="start" fill="#000" textLength="26" lengthAdjust="spacingAndGlyphs">TiO<tspan dy="1.5">2</tspan></text>
<text x="49.80" y="195.00" font-family="Liberation Serif" font-size="12.5" font-weight="bold" text-anchor="start" fill="#000" textLength="20" lengthAdjust="spacingAndGlyphs">clay</text>
<text x="110.60" y="14.20" font-family="Liberation Serif" font-size="8.5" font-weight="bold" text-anchor="middle" fill="#000">A</text>
<text x="122.90" y="81.50" font-family="Liberation Serif" font-size="8.5" font-weight="bold" text-anchor="middle" fill="#000">R</text>
<text x="162.90" y="76.00" font-family="Liberation Serif" font-size="8.5" font-weight="bold" text-anchor="middle" fill="#000">R</text>
<text x="204.30" y="71.00" font-family="Liberation Serif" font-size="8.5" font-weight="bold" text-anchor="middle" fill="#000">A</text>
<text x="227.00" y="80.40" font-family="Liberation Serif" font-size="8.5" font-weight="bold" text-anchor="middle" fill="#000">A</text>
<text x="234.90" y="81.80" font-family="Liberation Serif" font-size="8.5" font-weight="bold" text-anchor="middle" fill="#000">A</text>
<text x="264.50" y="80.40" font-family="Liberation Serif" font-size="8.5" font-weight="bold" text-anchor="middle" fill="#000">R</text>
<text x="115.50" y="59.00" font-family="Liberation Serif" font-size="8" font-weight="bold" text-anchor="middle" fill="#000">*</text>
<text x="135.60" y="84.00" font-family="Liberation Serif" font-size="8" font-weight="bold" text-anchor="middle" fill="#000">*</text>
<text x="282.40" y="84.80" font-family="Liberation Serif" font-size="8" font-weight="bold" text-anchor="middle" fill="#000">*</text>
<text x="108.80" y="100.20" font-family="Liberation Serif" font-size="8.5" font-weight="bold" text-anchor="middle" fill="#000" transform="rotate(-90 108.80 100.20)" textLength="19" lengthAdjust="spacingAndGlyphs">(101)</text>
<text x="125.30" y="136.50" font-family="Liberation Serif" font-size="8.5" font-weight="bold" text-anchor="middle" fill="#000" transform="rotate(-90 125.30 136.50)" textLength="19" lengthAdjust="spacingAndGlyphs">(101)</text>
<text x="165.50" y="133.50" font-family="Liberation Serif" font-size="8.5" font-weight="bold" text-anchor="middle" fill="#000" transform="rotate(-90 165.50 133.50)" textLength="19" lengthAdjust="spacingAndGlyphs">(004)</text>
<text x="207.30" y="121.40" font-family="Liberation Serif" font-size="8.5" font-weight="bold" text-anchor="middle" fill="#000" transform="rotate(-90 207.30 121.40)" textLength="19" lengthAdjust="spacingAndGlyphs">(200)</text>
<text x="229.00" y="130.10" font-family="Liberation Serif" font-size="8.5" font-weight="bold" text-anchor="middle" fill="#000" transform="rotate(-90 229.00 130.10)" textLength="19" lengthAdjust="spacingAndGlyphs">(105)</text>
<text x="238.80" y="132.30" font-family="Liberation Serif" font-size="8.5" font-weight="bold" text-anchor="middle" fill="#000" transform="rotate(-90 238.80 132.30)" textLength="19" lengthAdjust="spacingAndGlyphs">(211)</text>
<text x="267.30" y="135.90" font-family="Liberation Serif" font-size="8.5" font-weight="bold" text-anchor="middle" fill="#000" transform="rotate(-90 267.30 135.90)" textLength="19" lengthAdjust="spacingAndGlyphs">(204)</text>
<text x="113.00" y="168.60" font-family="Liberation Serif" font-size="8" font-weight="bold" text-anchor="middle" fill="#000" transform="rotate(-90 113.00 168.60)" textLength="16" lengthAdjust="spacingAndGlyphs">P+Q</text>
<text x="125.70" y="185.70" font-family="Liberation Serif" font-size="7.5" font-weight="bold" text-anchor="middle" fill="#000" transform="rotate(-90 125.70 185.70)" textLength="5.5" lengthAdjust="spacingAndGlyphs">P</text>
<text x="133.60" y="186.60" font-family="Liberation Serif" font-size="7.5" font-weight="bold" text-anchor="middle" fill="#000" transform="rotate(-90 133.60 186.60)" textLength="5.5" lengthAdjust="spacingAndGlyphs">P</text>
<text x="223.60" y="185.10" font-family="Liberation Serif" font-size="7.5" font-weight="bold" text-anchor="middle" fill="#000" transform="rotate(-90 223.60 185.10)" textLength="5.5" lengthAdjust="spacingAndGlyphs">P</text>
<text x="287.50" y="191.60" font-family="Liberation Serif" font-size="7.5" font-weight="bold" text-anchor="middle" fill="#000" transform="rotate(-90 287.50 191.60)" textLength="5.5" lengthAdjust="spacingAndGlyphs">P</text>
<text x="141.20" y="171.90" font-family="Liberation Serif" font-size="8.5" font-weight="bold" text-anchor="middle" fill="#000" transform="rotate(-90 141.20 171.90)">Q</text>
<text x="157.20" y="187.90" font-family="Liberation Serif" font-size="8.5" font-weight="bold" text-anchor="middle" fill="#000" transform="rotate(-90 157.20 187.90)">Q</text>
<text x="176.50" y="193.20" font-family="Liberation Serif" font-size="8.5" font-weight="bold" text-anchor="middle" fill="#000" transform="rotate(-90 176.50 193.20)">Q</text>
<clipPath id="cb"><rect x="386.5" y="1.7" width="286.0" height="211.8"/></clipPath><g clip-path="url(#cb)">
<polyline points="387.60,208.50 400.20,205.70 421.90,204.60 443.40,203.20 500.20,199.90 529.60,196.30 558.00,194.40 601.40,190.30 630.00,183.60 644.00,170.30 661.10,142.60 663.30,123.60 664.70,106.80 666.00,91.40 666.40,77.30 667.00,65.60 668.00,47.00 668.70,15.90 669.50,4.70" fill="none" stroke="#000" stroke-width="0.8" stroke-dasharray="5,2,1,2" stroke-linejoin="round" />
<polyline points="669.50,4.70 669.10,31.80 666.60,46.60 664.90,55.50 662.40,66.00 657.50,86.40 652.00,115.20 646.00,134.20 635.60,150.10 618.70,162.60 607.70,170.60 593.90,179.70 571.80,186.70 558.00,195.10 500.20,198.50 472.60,201.50" fill="none" stroke="#000" stroke-width="0.8" stroke-dasharray="5,2,1,2" stroke-linejoin="round" />
<path d="M387.60,204.60 L391.50,208.50 L387.60,212.40 L383.70,208.50 Z" fill="#ff0000"/>
<path d="M400.20,201.80 L404.10,205.70 L400.20,209.60 L396.30,205.70 Z" fill="#ff0000"/>
<path d="M421.90,200.70 L425.80,204.60 L421.90,208.50 L418.00,204.60 Z" fill="#ff0000"/>
<path d="M443.40,199.30 L447.30,203.20 L443.40,207.10 L439.50,203.20 Z" fill="#ff0000"/>
<path d="M500.20,196.00 L504.10,199.90 L500.20,203.80 L496.30,199.90 Z" fill="#ff0000"/>
<path d="M529.60,192.40 L533.50,196.30 L529.60,200.20 L525.70,196.30 Z" fill="#ff0000"/>
<path d="M558.00,190.50 L561.90,194.40 L558.00,198.30 L554.10,194.40 Z" fill="#ff0000"/>
<path d="M601.40,186.40 L605.30,190.30 L601.40,194.20 L597.50,190.30 Z" fill="#ff0000"/>
<path d="M630.00,179.70 L633.90,183.60 L630.00,187.50 L626.10,183.60 Z" fill="#ff0000"/>
<path d="M644.00,166.40 L647.90,170.30 L644.00,174.20 L640.10,170.30 Z" fill="#ff0000"/>
<path d="M661.10,138.70 L665.00,142.60 L661.10,146.50 L657.20,142.60 Z" fill="#ff0000"/>
<path d="M663.30,119.70 L667.20,123.60 L663.30,127.50 L659.40,123.60 Z" fill="#ff0000"/>
<path d="M664.70,102.90 L668.60,106.80 L664.70,110.70 L660.80,106.80 Z" fill="#ff0000"/>
<path d="M666.00,87.50 L669.90,91.40 L666.00,95.30 L662.10,91.40 Z" fill="#ff0000"/>
<path d="M666.40,73.40 L670.30,77.30 L666.40,81.20 L662.50,77.30 Z" fill="#ff0000"/>
<path d="M667.00,61.70 L670.90,65.60 L667.00,69.50 L663.10,65.60 Z" fill="#ff0000"/>
<path d="M668.00,43.10 L671.90,47.00 L668.00,50.90 L664.10,47.00 Z" fill="#ff0000"/>
<path d="M668.70,12.00 L672.60,15.90 L668.70,19.80 L664.80,15.90 Z" fill="#ff0000"/>
<path d="M669.50,0.80 L673.40,4.70 L669.50,8.60 L665.60,4.70 Z" fill="#ff0000"/>
<circle cx="669.10" cy="31.80" r="3.15" fill="#0000ff"/>
<circle cx="666.60" cy="46.60" r="3.15" fill="#0000ff"/>
<circle cx="664.90" cy="55.50" r="3.15" fill="#0000ff"/>
<circle cx="662.40" cy="66.00" r="3.15" fill="#0000ff"/>
<circle cx="657.50" cy="86.40" r="3.15" fill="#0000ff"/>
<circle cx="652.00" cy="115.20" r="3.15" fill="#0000ff"/>
<circle cx="646.00" cy="134.20" r="3.15" fill="#0000ff"/>
<circle cx="635.60" cy="150.10" r="3.15" fill="#0000ff"/>
<circle cx="618.70" cy="162.60" r="3.15" fill="#0000ff"/>
<circle cx="607.70" cy="170.60" r="3.15" fill="#0000ff"/>
<circle cx="593.90" cy="179.70" r="3.15" fill="#0000ff"/>
<circle cx="571.80" cy="186.70" r="3.15" fill="#0000ff"/>
<circle cx="558.00" cy="195.10" r="3.15" fill="#0000ff"/>
<circle cx="500.20" cy="198.50" r="3.15" fill="#0000ff"/>
<circle cx="472.60" cy="201.50" r="3.15" fill="#0000ff"/>
</g>
<rect x="386.50" y="1.70" width="286.00" height="211.80" fill="none" stroke="#333" stroke-width="1.25"/>
<text x="382.30" y="216.60" font-family="Liberation Serif" font-size="13" font-weight="bold" text-anchor="end" fill="#000">0</text>
<line x1="386.50" y1="179.32" x2="390.50" y2="179.32" stroke="#222" stroke-width="1.1"/>
<text x="382.30" y="182.42" font-family="Liberation Serif" font-size="13" font-weight="bold" text-anchor="end" fill="#000">50</text>
<line x1="386.50" y1="145.13" x2="390.50" y2="145.13" stroke="#222" stroke-width="1.1"/>
<text x="382.30" y="148.23" font-family="Liberation Serif" font-size="13" font-weight="bold" text-anchor="end" fill="#000">100</text>
<line x1="386.50" y1="110.95" x2="390.50" y2="110.95" stroke="#222" stroke-width="1.1"/>
<text x="382.30" y="114.05" font-family="Liberation Serif" font-size="13" font-weight="bold" text-anchor="end" fill="#000">150</text>
<line x1="386.50" y1="76.77" x2="390.50" y2="76.77" stroke="#222" stroke-width="1.1"/>
<text x="382.30" y="79.87" font-family="Liberation Serif" font-size="13" font-weight="bold" text-anchor="end" fill="#000">200</text>
<line x1="386.50" y1="42.58" x2="390.50" y2="42.58" stroke="#222" stroke-width="1.1"/>
<text x="382.30" y="45.68" font-family="Liberation Serif" font-size="13" font-weight="bold" text-anchor="end" fill="#000">250</text>
<text x="382.30" y="11.50" font-family="Liberation Serif" font-size="13" font-weight="bold" text-anchor="end" fill="#000">300</text>
<text x="386.50" y="227.50" font-family="Liberation Serif" font-size="12.5" font-weight="bold" text-anchor="middle" fill="#000">0.0</text>
<line x1="443.70" y1="213.50" x2="443.70" y2="216.00" stroke="#222" stroke-width="1.1"/>
<text x="443.70" y="227.50" font-family="Liberation Serif" font-size="12.5" font-weight="bold" text-anchor="middle" fill="#000">0.2</text>
<line x1="500.90" y1="213.50" x2="500.90" y2="216.00" stroke="#222" stroke-width="1.1"/>
<text x="500.90" y="227.50" font-family="Liberation Serif" font-size="12.5" font-weight="bold" text-anchor="middle" fill="#000">0.4</text>
<line x1="558.10" y1="213.50" x2="558.10" y2="216.00" stroke="#222" stroke-width="1.1"/>
<text x="558.10" y="227.50" font-family="Liberation Serif" font-size="12.5" font-weight="bold" text-anchor="middle" fill="#000">0.6</text>
<line x1="615.30" y1="213.50" x2="615.30" y2="216.00" stroke="#222" stroke-width="1.1"/>
<text x="615.30" y="227.50" font-family="Liberation Serif" font-size="12.5" font-weight="bold" text-anchor="middle" fill="#000">0.8</text>
<text x="672.50" y="227.50" font-family="Liberation Serif" font-size="12.5" font-weight="bold" text-anchor="middle" fill="#000">1.0</text>
<text x="450.00" y="242.40" font-family="Liberation Serif" font-size="13" font-weight="bold" text-anchor="start" fill="#000" textLength="131" lengthAdjust="spacingAndGlyphs">Relative pressure (P/P<tspan font-size="10" dy="2">0</tspan><tspan dy="-2">)</tspan></text>
<text x="351.60" y="167.30" font-family="Liberation Serif" font-size="13" font-weight="bold" text-anchor="start" fill="#000" transform="rotate(-90 351.60 167.30)" textLength="120.5" lengthAdjust="spacingAndGlyphs">Volume(cm<tspan font-size="9" dy="-5">3</tspan><tspan dy="5">(STP).g</tspan><tspan font-size="9" dy="-5">-1</tspan><tspan dy="5">)</tspan></text>
<text x="393.40" y="16.60" font-family="Liberation Serif" font-size="13.5" font-weight="bold" text-anchor="start" fill="#000">(b)</text>
<rect x="547.40" y="2.50" width="115.00" height="48.30" fill="#fff" stroke="#222" stroke-width="1.2"/>
<line x1="548.50" y1="12.70" x2="563.30" y2="12.70" stroke="#000" stroke-width="0.8"/>
<path d="M555.90,8.80 L559.80,12.70 L555.90,16.60 L552.00,12.70 Z" fill="#ff0000"/>
<text x="566.50" y="14.80" font-family="Liberation Serif" font-size="13" font-weight="bold" text-anchor="start" fill="#000" textLength="25.5" lengthAdjust="spacingAndGlyphs">ADS</text>
<line x1="548.50" y1="44.90" x2="563.30" y2="44.90" stroke="#000" stroke-width="0.8"/>
<circle cx="555.90" cy="44.90" r="3.15" fill="#0000ff"/>
<text x="566.50" y="46.90" font-family="Liberation Serif" font-size="13" font-weight="bold" text-anchor="start" fill="#000" textLength="25" lengthAdjust="spacingAndGlyphs">DES</text>
<text x="606.70" y="30.50" font-family="Liberation Serif" font-size="12.5" font-weight="bold" text-anchor="start" fill="#000" textLength="54" lengthAdjust="spacingAndGlyphs">TiO<tspan dy="1.5">2</tspan><tspan dy="-1.5">-clay</tspan></text>
<rect x="421.3" y="13.3" width="121.99999999999994" height="107.3" fill="#fff" stroke="none"/>
<clipPath id="ci"><rect x="421.3" y="13.3" width="121.99999999999994" height="107.3"/></clipPath><g clip-path="url(#ci)">
<polyline points="422.00,118.60 427.40,117.00 436.70,115.60 458.20,113.70 482.30,111.80 494.60,110.00 525.00,104.40 529.70,101.80 538.20,91.50 540.80,81.40 541.50,74.00 541.90,64.60 541.90,56.60 542.20,48.20 542.20,39.10 542.20,30.40" fill="none" stroke="#333" stroke-width="0.7" stroke-dasharray="2.5,1.5" stroke-linejoin="round" />
<polyline points="542.20,30.40 541.50,36.90 541.20,40.60 540.00,51.50 538.90,61.30 538.60,70.40 538.20,75.50 536.70,85.70 536.10,90.80 530.20,100.80 528.50,101.50 513.10,107.60 494.40,110.40 470.60,112.80 446.10,114.90" fill="none" stroke="#333" stroke-width="0.7" stroke-dasharray="2.5,1.5" stroke-linejoin="round" />
<path d="M422.00,116.00 L424.60,118.60 L422.00,121.20 L419.40,118.60 Z" fill="#2c5f8e"/>
<path d="M427.40,114.40 L430.00,117.00 L427.40,119.60 L424.80,117.00 Z" fill="#2c5f8e"/>
<path d="M436.70,113.00 L439.30,115.60 L436.70,118.20 L434.10,115.60 Z" fill="#2c5f8e"/>
<path d="M458.20,111.10 L460.80,113.70 L458.20,116.30 L455.60,113.70 Z" fill="#2c5f8e"/>
<path d="M482.30,109.20 L484.90,111.80 L482.30,114.40 L479.70,111.80 Z" fill="#2c5f8e"/>
<path d="M494.60,107.40 L497.20,110.00 L494.60,112.60 L492.00,110.00 Z" fill="#2c5f8e"/>
<path d="M525.00,101.80 L527.60,104.40 L525.00,107.00 L522.40,104.40 Z" fill="#2c5f8e"/>
<path d="M529.70,99.20 L532.30,101.80 L529.70,104.40 L527.10,101.80 Z" fill="#2c5f8e"/>
<path d="M538.20,88.90 L540.80,91.50 L538.20,94.10 L535.60,91.50 Z" fill="#2c5f8e"/>
<path d="M540.80,78.80 L543.40,81.40 L540.80,84.00 L538.20,81.40 Z" fill="#2c5f8e"/>
<path d="M541.50,71.40 L544.10,74.00 L541.50,76.60 L538.90,74.00 Z" fill="#2c5f8e"/>
<path d="M541.90,62.00 L544.50,64.60 L541.90,67.20 L539.30,64.60 Z" fill="#2c5f8e"/>
<path d="M541.90,54.00 L544.50,56.60 L541.90,59.20 L539.30,56.60 Z" fill="#2c5f8e"/>
<path d="M542.20,45.60 L544.80,48.20 L542.20,50.80 L539.60,48.20 Z" fill="#2c5f8e"/>
<path d="M542.20,36.50 L544.80,39.10 L542.20,41.70 L539.60,39.10 Z" fill="#2c5f8e"/>
<path d="M542.20,27.80 L544.80,30.40 L542.20,33.00 L539.60,30.40 Z" fill="#2c5f8e"/>
<path d="M541.50,34.30 L544.10,36.90 L541.50,39.50 L538.90,36.90 Z" fill="#ff2a8a"/>
<path d="M541.20,38.00 L543.80,40.60 L541.20,43.20 L538.60,40.60 Z" fill="#ff2a8a"/>
<path d="M540.00,48.90 L542.60,51.50 L540.00,54.10 L537.40,51.50 Z" fill="#ff2a8a"/>
<path d="M538.90,58.70 L541.50,61.30 L538.90,63.90 L536.30,61.30 Z" fill="#ff2a8a"/>
<path d="M538.60,67.80 L541.20,70.40 L538.60,73.00 L536.00,70.40 Z" fill="#ff2a8a"/>
<path d="M538.20,72.90 L540.80,75.50 L538.20,78.10 L535.60,75.50 Z" fill="#ff2a8a"/>
<path d="M536.70,83.10 L539.30,85.70 L536.70,88.30 L534.10,85.70 Z" fill="#ff2a8a"/>
<path d="M536.10,88.20 L538.70,90.80 L536.10,93.40 L533.50,90.80 Z" fill="#ff2a8a"/>
<path d="M530.20,98.20 L532.80,100.80 L530.20,103.40 L527.60,100.80 Z" fill="#ff2a8a"/>
<path d="M528.50,98.90 L531.10,101.50 L528.50,104.10 L525.90,101.50 Z" fill="#ff2a8a"/>
<path d="M513.10,105.00 L515.70,107.60 L513.10,110.20 L510.50,107.60 Z" fill="#ff2a8a"/>
<path d="M494.40,107.80 L497.00,110.40 L494.40,113.00 L491.80,110.40 Z" fill="#ff2a8a"/>
<path d="M470.60,110.20 L473.20,112.80 L470.60,115.40 L468.00,112.80 Z" fill="#ff2a8a"/>
<path d="M446.10,112.30 L448.70,114.90 L446.10,117.50 L443.50,114.90 Z" fill="#ff2a8a"/>
</g>
<rect x="421.30" y="13.30" width="122.00" height="107.30" fill="none" stroke="#333" stroke-width="1.1"/>
<text x="419.80" y="123.40" font-family="Liberation Serif" font-size="8.5" font-weight="normal" text-anchor="end" fill="#000" stroke="#000" stroke-width="0.25">0</text>
<line x1="418.80" y1="101.00" x2="421.30" y2="101.00" stroke="#333" stroke-width="0.8"/>
<text x="419.80" y="103.80" font-family="Liberation Serif" font-size="8.5" font-weight="normal" text-anchor="end" fill="#000" stroke="#000" stroke-width="0.25">50</text>
<line x1="418.80" y1="81.40" x2="421.30" y2="81.40" stroke="#333" stroke-width="0.8"/>
<text x="419.80" y="84.20" font-family="Liberation Serif" font-size="8.5" font-weight="normal" text-anchor="end" fill="#000" stroke="#000" stroke-width="0.25">100</text>
<line x1="418.80" y1="61.80" x2="421.30" y2="61.80" stroke="#333" stroke-width="0.8"/>
<text x="419.80" y="64.60" font-family="Liberation Serif" font-size="8.5" font-weight="normal" text-anchor="end" fill="#000" stroke="#000" stroke-width="0.25">150</text>
<line x1="418.80" y1="42.20" x2="421.30" y2="42.20" stroke="#333" stroke-width="0.8"/>
<text x="419.80" y="45.00" font-family="Liberation Serif" font-size="8.5" font-weight="normal" text-anchor="end" fill="#000" stroke="#000" stroke-width="0.25">200</text>
<line x1="418.80" y1="22.60" x2="421.30" y2="22.60" stroke="#333" stroke-width="0.8"/>
<text x="419.80" y="25.40" font-family="Liberation Serif" font-size="8.5" font-weight="normal" text-anchor="end" fill="#000" stroke="#000" stroke-width="0.25">250</text>
<text x="421.30" y="129.20" font-family="Liberation Serif" font-size="9" font-weight="normal" text-anchor="middle" fill="#000" stroke="#000" stroke-width="0.2">0.0</text>
<line x1="445.70" y1="120.60" x2="445.70" y2="118.40" stroke="#333" stroke-width="0.8"/>
<text x="445.70" y="129.20" font-family="Liberation Serif" font-size="9" font-weight="normal" text-anchor="middle" fill="#000" stroke="#000" stroke-width="0.2">0.2</text>
<line x1="470.10" y1="120.60" x2="470.10" y2="118.40" stroke="#333" stroke-width="0.8"/>
<text x="470.10" y="129.20" font-family="Liberation Serif" font-size="9" font-weight="normal" text-anchor="middle" fill="#000" stroke="#000" stroke-width="0.2">0.4</text>
<line x1="494.50" y1="120.60" x2="494.50" y2="118.40" stroke="#333" stroke-width="0.8"/>
<text x="494.50" y="129.20" font-family="Liberation Serif" font-size="9" font-weight="normal" text-anchor="middle" fill="#000" stroke="#000" stroke-width="0.2">0.6</text>
<line x1="518.90" y1="120.60" x2="518.90" y2="118.40" stroke="#333" stroke-width="0.8"/>
<text x="518.90" y="129.20" font-family="Liberation Serif" font-size="9" font-weight="normal" text-anchor="middle" fill="#000" stroke="#000" stroke-width="0.2">0.8</text>
<text x="543.30" y="129.20" font-family="Liberation Serif" font-size="9" font-weight="normal" text-anchor="middle" fill="#000" stroke="#000" stroke-width="0.2">1.0</text>
<text x="440.50" y="139.80" font-family="Liberation Serif" font-size="8.5" font-weight="normal" text-anchor="start" fill="#000" textLength="74" lengthAdjust="spacingAndGlyphs">Relative pressure <tspan font-style="italic">P</tspan>/P<tspan font-size="6" dy="1">0</tspan></text>
<text x="402.00" y="102.00" font-family="Liberation Serif" font-size="8.5" font-weight="normal" text-anchor="start" fill="#000" transform="rotate(-90 402.00 102.00)" textLength="79.5" lengthAdjust="spacingAndGlyphs">Volume(cm<tspan font-size="6" dy="-3">3</tspan><tspan dy="3">(STP).g</tspan><tspan font-size="6" dy="-3">-1</tspan><tspan dy="3">)</tspan></text>
<rect x="476.20" y="13.30" width="60.30" height="38.90" fill="#fff" stroke="#222" stroke-width="1.0"/>
<line x1="477.00" y1="19.80" x2="492.00" y2="19.80" stroke="#555" stroke-width="1.0" stroke-dasharray="2.2,2"/>
<path d="M485.80,17.70 L487.90,19.80 L485.80,21.90 L483.70,19.80 Z" fill="#1f4f7e"/>
<text x="496.30" y="22.80" font-family="Liberation Serif" font-size="8.8" font-weight="normal" text-anchor="start" fill="#000" textLength="16.5" lengthAdjust="spacingAndGlyphs" stroke="#000" stroke-width="0.3">ADS</text>
<text x="516.00" y="34.20" font-family="Liberation Serif" font-size="8.8" font-weight="normal" text-anchor="start" fill="#000" textLength="19" lengthAdjust="spacingAndGlyphs" stroke="#000" stroke-width="0.3">TiO<tspan font-size="6.5" dy="2">2</tspan></text>
<line x1="477.00" y1="45.50" x2="492.00" y2="45.50" stroke="#555" stroke-width="1.0" stroke-dasharray="2.2,2"/>
<path d="M485.80,43.40 L487.90,45.50 L485.80,47.60 L483.70,45.50 Z" fill="#ff2a8a"/>
<text x="496.30" y="48.50" font-family="Liberation Serif" font-size="8.8" font-weight="normal" text-anchor="start" fill="#000" textLength="16.5" lengthAdjust="spacingAndGlyphs" stroke="#000" stroke-width="0.3">DES</text>
<line x1="63.00" y1="408.37" x2="353.50" y2="408.37" stroke="#d5deee" stroke-width="1.0"/>
<line x1="63.00" y1="346.43" x2="353.50" y2="346.43" stroke="#d5deee" stroke-width="1.0"/>
<line x1="207.75" y1="284.50" x2="207.75" y2="470.30" stroke="#d5deee" stroke-width="1.0"/>
<polyline points="73.50,463.50 91.50,467.30 99.70,467.70 108.60,469.10 116.50,462.10 124.90,460.30 141.80,465.40 150.00,465.90 159.30,462.60 174.50,466.60 183.80,466.30 193.60,465.40 203.00,439.20 211.70,367.80 229.30,362.80 239.00,311.20 248.60,306.50 258.00,431.90 267.40,464.00 276.60,465.60 294.80,460.30 305.40,466.20 313.70,461.20 324.00,466.20 333.20,466.20 342.70,470.10 351.90,469.50" fill="none" stroke="#9a0e0e" stroke-width="1.8" stroke-linejoin="round" />
<line x1="62.00" y1="284.50" x2="353.50" y2="284.50" stroke="#333" stroke-width="1.0"/>
<line x1="353.50" y1="284.50" x2="353.50" y2="470.30" stroke="#333" stroke-width="1.0"/>
<line x1="62.00" y1="284.00" x2="62.00" y2="470.30" stroke="#222" stroke-width="1.6"/>
<line x1="58.00" y1="470.30" x2="353.50" y2="470.30" stroke="#000" stroke-width="2.0"/>
<line x1="58.00" y1="470.30" x2="62.00" y2="470.30" stroke="#222" stroke-width="1.0"/>
<text x="49.50" y="474.50" font-family="Liberation Serif" font-size="13.5" font-weight="normal" text-anchor="end" fill="#000">0</text>
<line x1="58.00" y1="408.37" x2="62.00" y2="408.37" stroke="#222" stroke-width="1.0"/>
<text x="49.50" y="412.57" font-family="Liberation Serif" font-size="13.5" font-weight="normal" text-anchor="end" fill="#000">0.006</text>
<line x1="58.00" y1="346.43" x2="62.00" y2="346.43" stroke="#222" stroke-width="1.0"/>
<text x="49.50" y="350.63" font-family="Liberation Serif" font-size="13.5" font-weight="normal" text-anchor="end" fill="#000">0.012</text>
<line x1="58.00" y1="284.50" x2="62.00" y2="284.50" stroke="#222" stroke-width="1.0"/>
<text x="49.50" y="288.70" font-family="Liberation Serif" font-size="13.5" font-weight="normal" text-anchor="end" fill="#000">0.018</text>
<line x1="62.00" y1="470.30" x2="62.00" y2="474.30" stroke="#222" stroke-width="1.0"/>
<text x="62.00" y="490.30" font-family="Liberation Serif" font-size="13.5" font-weight="normal" text-anchor="middle" fill="#000">1</text>
<line x1="207.75" y1="470.30" x2="207.75" y2="474.30" stroke="#222" stroke-width="1.0"/>
<text x="207.75" y="490.30" font-family="Liberation Serif" font-size="13.5" font-weight="normal" text-anchor="middle" fill="#000">10</text>
<line x1="353.50" y1="470.30" x2="353.50" y2="474.30" stroke="#222" stroke-width="1.0"/>
<text x="353.50" y="490.30" font-family="Liberation Serif" font-size="13.5" font-weight="normal" text-anchor="middle" fill="#000">100</text>
<text x="159.60" y="275.80" font-family="Liberation Serif" font-size="17" font-weight="bold" text-anchor="start" fill="#000" textLength="70" lengthAdjust="spacingAndGlyphs">BJH-Plot</text>
<text x="70.80" y="302.20" font-family="Liberation Serif" font-size="14.5" font-weight="bold" text-anchor="start" fill="#000">(c)</text>
<text x="19.50" y="400.90" font-family="Liberation Serif" font-size="17" font-weight="bold" text-anchor="start" fill="#000" transform="rotate(-90 19.50 400.90)" textLength="47.5" lengthAdjust="spacingAndGlyphs">d<tspan font-style="italic">V</tspan><tspan font-style="italic" font-size="12" dy="3">p</tspan><tspan dy="-3">/d</tspan><tspan font-style="italic">r</tspan><tspan font-style="italic" font-size="12" dy="3">p</tspan></text>
<text x="178.90" y="503.60" font-family="Liberation Serif" font-size="18" font-weight="bold" text-anchor="start" fill="#000" textLength="43.5" lengthAdjust="spacingAndGlyphs"><tspan font-style="italic">r</tspan><tspan font-style="italic" font-size="14" dy="4">p</tspan><tspan dy="-4">/nm</tspan></text>
<line x1="376.70" y1="245.00" x2="376.70" y2="528.00" stroke="#f2f2f2" stroke-width="1.0"/>
<path d="M401.50,288.10 C402.47,288.35 406.47,289.80 408.80,290.00 C411.13,290.20 417.05,289.79 419.00,289.60 C420.95,289.41 422.33,288.88 423.40,288.60 C424.47,288.32 426.13,287.31 427.00,287.50 C427.87,287.69 428.83,288.20 429.90,290.00 C430.97,291.80 433.53,297.79 435.00,301.00 C436.47,304.21 439.53,311.09 440.90,314.10 C442.27,317.11 444.33,322.08 445.30,323.60 C446.27,325.12 447.23,325.41 448.20,325.50 C449.17,325.59 451.24,324.85 452.60,324.30 C453.96,323.75 457.04,321.83 458.40,321.40 C459.76,320.97 461.24,321.69 462.80,321.10 C464.36,320.51 467.86,318.52 470.10,317.00 C472.34,315.48 477.85,310.57 479.60,309.70 C481.35,308.83 482.52,309.91 483.20,310.50 C483.88,311.09 484.21,314.30 484.70,314.10 C485.19,313.90 486.31,309.97 486.90,309.00 C487.49,308.03 488.53,307.09 489.10,306.80 C489.67,306.51 490.72,307.39 491.20,306.80 C491.68,306.21 492.19,303.67 492.70,302.40 C493.21,301.13 494.08,298.49 495.00,297.30 C495.92,296.11 498.17,294.73 499.60,293.50 C501.03,292.27 502.83,288.86 505.70,288.10 C508.57,287.34 516.39,287.69 521.10,287.80 C525.81,287.91 535.89,288.69 541.00,288.90 C546.11,289.11 555.52,289.47 559.40,289.40 C563.28,289.33 568.06,288.47 570.10,288.40 C572.14,288.33 573.37,288.98 574.70,288.90 C576.03,288.82 579.07,287.49 580.10,287.80 C581.13,288.11 581.79,288.91 582.40,291.20 C583.01,293.49 584.13,302.04 584.70,305.00 C585.27,307.96 586.19,313.40 586.70,313.40 C587.21,313.40 587.95,308.16 588.50,305.00 C589.05,301.84 590.19,291.95 590.80,289.70 C591.41,287.45 592.17,288.29 593.10,288.10 C594.03,287.91 596.80,287.73 597.80,288.30 C598.80,288.87 599.49,291.95 600.60,292.40 C601.71,292.85 604.99,292.06 606.10,291.70 C607.21,291.34 607.31,290.06 608.90,289.70 C610.49,289.34 616.43,288.73 618.00,289.00 C619.57,289.27 619.73,290.50 620.70,291.70 C621.67,292.90 624.27,298.45 625.30,298.00 C626.33,297.55 627.57,289.05 628.40,288.30 C629.23,287.55 630.66,292.40 631.50,292.40 C632.34,292.40 633.99,288.57 634.70,288.30 C635.41,288.03 636.16,289.01 636.80,290.40 C637.44,291.79 638.67,295.18 639.50,298.70 C640.33,302.22 642.16,312.53 643.00,316.80 C643.84,321.07 645.24,326.06 645.80,330.70 C646.36,335.34 646.88,345.11 647.20,351.60 C647.52,358.09 647.92,370.55 648.20,379.40 C648.48,388.25 648.90,409.52 649.30,418.00 C649.70,426.48 650.64,438.40 651.20,443.00 C651.76,447.60 652.90,450.95 653.50,452.50 C654.10,454.05 655.03,454.60 655.70,454.60 C656.37,454.60 657.50,454.35 658.50,452.50 C659.50,450.65 661.56,446.15 663.20,440.70 C664.84,435.25 668.69,419.52 670.80,411.60 C672.91,403.68 677.91,385.34 679.00,381.30" fill="none" stroke="#111" stroke-width="1.0" stroke-linejoin="round"/>
<path d="M401.50,287.50 C402.47,287.78 406.28,289.20 408.80,289.60 C411.32,290.00 418.17,289.86 420.40,290.50 C422.63,291.14 424.33,292.81 425.50,294.40 C426.67,295.99 428.12,300.45 429.20,302.40 C430.28,304.35 432.24,306.85 433.60,309.00 C434.96,311.15 438.04,316.26 439.40,318.50 C440.76,320.74 442.73,324.15 443.80,325.80 C444.87,327.45 446.52,330.22 447.40,330.90 C448.28,331.58 449.32,331.38 450.40,330.90 C451.48,330.42 453.85,328.57 455.50,327.30 C457.15,326.03 460.85,323.16 462.80,321.40 C464.75,319.64 467.86,316.23 470.10,314.10 C472.34,311.97 477.76,306.67 479.60,305.40 C481.44,304.13 483.03,304.51 483.90,304.60 C484.77,304.69 485.51,306.78 486.10,306.10 C486.69,305.42 487.62,300.57 488.30,299.50 C488.98,298.43 490.52,298.87 491.20,298.10 C491.88,297.33 492.61,294.78 493.40,293.70 C494.19,292.62 496.22,290.63 497.10,290.00 C497.98,289.37 498.85,289.15 500.00,289.00 C501.15,288.85 504.11,288.81 505.70,288.90 C507.29,288.99 510.26,289.43 511.90,289.70 C513.54,289.97 515.15,290.74 518.00,290.90 C520.85,291.06 529.42,290.75 533.30,290.90 C537.18,291.05 543.62,292.00 547.10,292.00 C550.58,292.00 556.53,291.31 559.40,290.90 C562.27,290.49 566.76,289.06 568.60,288.90 C570.44,288.74 571.97,289.81 573.20,289.70 C574.43,289.59 576.79,288.10 577.80,288.10 C578.81,288.10 580.03,287.65 580.80,289.70 C581.57,291.75 582.88,299.31 583.60,303.50 C584.32,307.69 585.51,320.90 586.20,321.10 C586.89,321.30 588.12,309.09 588.80,305.00 C589.48,300.91 590.62,292.65 591.30,290.40 C591.98,288.15 593.15,288.19 593.90,288.10 C594.65,288.01 596.10,286.25 596.90,289.70 C597.70,293.15 599.26,309.83 599.90,314.00 C600.54,318.17 601.21,321.19 601.70,321.00 C602.19,320.81 603.01,316.04 603.60,312.60 C604.19,309.16 605.39,298.35 606.10,295.20 C606.81,292.05 607.87,289.92 608.90,289.00 C609.93,288.08 612.68,288.63 613.80,288.30 C614.92,287.97 616.50,286.22 617.30,286.50 C618.10,286.78 619.07,287.11 619.80,290.40 C620.53,293.69 621.84,305.27 622.80,311.20 C623.76,317.13 625.97,329.51 627.00,334.90 C628.03,340.29 629.75,346.59 630.50,351.60 C631.25,356.61 632.17,368.23 632.60,372.50 C633.03,376.77 633.37,384.16 633.70,383.60 C634.03,383.04 634.69,373.50 635.10,368.30 C635.51,363.10 636.31,352.40 636.80,344.60 C637.29,336.80 638.35,317.03 638.80,309.80 C639.25,302.57 639.83,293.17 640.20,290.40 C640.57,287.63 641.23,288.36 641.60,289.00 C641.97,289.64 642.63,295.01 643.00,295.20 C643.37,295.39 643.97,288.81 644.40,290.40 C644.83,291.99 645.64,299.87 646.20,307.10 C646.76,314.33 648.00,335.33 648.60,344.60 C649.20,353.87 650.05,371.40 650.70,376.60 C651.35,381.80 652.77,382.76 653.50,383.60 C654.23,384.44 655.33,383.37 656.20,382.90 C657.07,382.43 658.23,383.54 660.00,380.10 C661.77,376.66 666.97,363.82 669.50,357.10 C672.03,350.38 677.73,333.35 679.00,329.70" fill="none" stroke="#ff1a1a" stroke-width="1.0" stroke-linejoin="round"/>
<rect x="401.00" y="284.50" width="278.50" height="188.80" fill="none" stroke="#222" stroke-width="1.2"/>
<text x="395.50" y="476.10" font-family="Liberation Serif" font-size="9" font-weight="bold" text-anchor="end" fill="#000" textLength="10.4" lengthAdjust="spacingAndGlyphs">55</text>
<line x1="401.00" y1="452.72" x2="404.50" y2="452.72" stroke="#222" stroke-width="1.0"/>
<text x="395.50" y="455.52" font-family="Liberation Serif" font-size="9" font-weight="bold" text-anchor="end" fill="#000" textLength="10.4" lengthAdjust="spacingAndGlyphs">60</text>
<line x1="401.00" y1="432.14" x2="404.50" y2="432.14" stroke="#222" stroke-width="1.0"/>
<text x="395.50" y="434.94" font-family="Liberation Serif" font-size="9" font-weight="bold" text-anchor="end" fill="#000" textLength="10.4" lengthAdjust="spacingAndGlyphs">65</text>
<line x1="401.00" y1="411.57" x2="404.50" y2="411.57" stroke="#222" stroke-width="1.0"/>
<text x="395.50" y="414.37" font-family="Liberation Serif" font-size="9" font-weight="bold" text-anchor="end" fill="#000" textLength="10.4" lengthAdjust="spacingAndGlyphs">70</text>
<line x1="401.00" y1="390.99" x2="404.50" y2="390.99" stroke="#222" stroke-width="1.0"/>
<text x="395.50" y="393.79" font-family="Liberation Serif" font-size="9" font-weight="bold" text-anchor="end" fill="#000" textLength="10.4" lengthAdjust="spacingAndGlyphs">75</text>
<line x1="401.00" y1="370.41" x2="404.50" y2="370.41" stroke="#222" stroke-width="1.0"/>
<text x="395.50" y="373.21" font-family="Liberation Serif" font-size="9" font-weight="bold" text-anchor="end" fill="#000" textLength="10.4" lengthAdjust="spacingAndGlyphs">80</text>
<line x1="401.00" y1="349.83" x2="404.50" y2="349.83" stroke="#222" stroke-width="1.0"/>
<text x="395.50" y="352.63" font-family="Liberation Serif" font-size="9" font-weight="bold" text-anchor="end" fill="#000" textLength="10.4" lengthAdjust="spacingAndGlyphs">85</text>
<line x1="401.00" y1="329.26" x2="404.50" y2="329.26" stroke="#222" stroke-width="1.0"/>
<text x="395.50" y="332.06" font-family="Liberation Serif" font-size="9" font-weight="bold" text-anchor="end" fill="#000" textLength="10.4" lengthAdjust="spacingAndGlyphs">90</text>
<line x1="401.00" y1="308.68" x2="404.50" y2="308.68" stroke="#222" stroke-width="1.0"/>
<text x="395.50" y="311.48" font-family="Liberation Serif" font-size="9" font-weight="bold" text-anchor="end" fill="#000" textLength="10.4" lengthAdjust="spacingAndGlyphs">95</text>
<text x="395.50" y="290.90" font-family="Liberation Serif" font-size="9" font-weight="bold" text-anchor="end" fill="#000" textLength="16.6" lengthAdjust="spacingAndGlyphs">100</text>
<text x="401.50" y="484.20" font-family="Liberation Serif" font-size="9" font-weight="bold" text-anchor="middle" fill="#000" textLength="19.8" lengthAdjust="spacingAndGlyphs">4000</text>
<line x1="440.64" y1="473.30" x2="440.64" y2="469.80" stroke="#222" stroke-width="1.0"/>
<text x="440.64" y="484.20" font-family="Liberation Serif" font-size="9" font-weight="bold" text-anchor="middle" fill="#000" textLength="19.8" lengthAdjust="spacingAndGlyphs">3500</text>
<line x1="479.79" y1="473.30" x2="479.79" y2="469.80" stroke="#222" stroke-width="1.0"/>
<text x="479.79" y="484.20" font-family="Liberation Serif" font-size="9" font-weight="bold" text-anchor="middle" fill="#000" textLength="19.8" lengthAdjust="spacingAndGlyphs">3000</text>
<line x1="518.93" y1="473.30" x2="518.93" y2="469.80" stroke="#222" stroke-width="1.0"/>
<text x="518.93" y="484.20" font-family="Liberation Serif" font-size="9" font-weight="bold" text-anchor="middle" fill="#000" textLength="19.8" lengthAdjust="spacingAndGlyphs">2500</text>
<line x1="558.07" y1="473.30" x2="558.07" y2="469.80" stroke="#222" stroke-width="1.0"/>
<text x="558.07" y="484.20" font-family="Liberation Serif" font-size="9" font-weight="bold" text-anchor="middle" fill="#000" textLength="19.8" lengthAdjust="spacingAndGlyphs">2000</text>
<line x1="597.21" y1="473.30" x2="597.21" y2="469.80" stroke="#222" stroke-width="1.0"/>
<text x="597.21" y="484.20" font-family="Liberation Serif" font-size="9" font-weight="bold" text-anchor="middle" fill="#000" textLength="19.8" lengthAdjust="spacingAndGlyphs">1500</text>
<line x1="636.36" y1="473.30" x2="636.36" y2="469.80" stroke="#222" stroke-width="1.0"/>
<text x="636.36" y="484.20" font-family="Liberation Serif" font-size="9" font-weight="bold" text-anchor="middle" fill="#000" textLength="19.8" lengthAdjust="spacingAndGlyphs">1000</text>
<line x1="675.50" y1="473.30" x2="675.50" y2="469.80" stroke="#222" stroke-width="1.0"/>
<text x="675.50" y="484.20" font-family="Liberation Serif" font-size="9" font-weight="bold" text-anchor="middle" fill="#000" textLength="14.850000000000001" lengthAdjust="spacingAndGlyphs">500</text>
<text x="405.00" y="305.80" font-family="Liberation Serif" font-size="16" font-weight="bold" text-anchor="start" fill="#000">(d)</text>
<text x="368.50" y="386.80" font-family="Liberation Serif" font-size="11.5" font-weight="bold" text-anchor="start" fill="#000" transform="rotate(-90 368.50 386.80)" textLength="28" lengthAdjust="spacingAndGlyphs">T(%)</text>
<text x="485.40" y="500.40" font-family="Liberation Serif" font-size="12" font-weight="bold" text-anchor="start" fill="#000" textLength="108.3" lengthAdjust="spacingAndGlyphs">wavenumber (cm-1)</text>
<rect x="410.40" y="438.10" width="93.20" height="29.20" fill="#fff" stroke="#222" stroke-width="1.0"/>
<line x1="412.70" y1="446.70" x2="440.10" y2="446.70" stroke="#111" stroke-width="1.0"/>
<text x="444.30" y="449.80" font-family="Liberation Serif" font-size="11.5" font-weight="bold" text-anchor="start" fill="#000" textLength="27.3" lengthAdjust="spacingAndGlyphs">TiO2</text>
<line x1="412.70" y1="459.60" x2="440.10" y2="459.60" stroke="#c8242a" stroke-width="1.0"/>
<text x="444.30" y="462.70" font-family="Liberation Serif" font-size="11.5" font-weight="bold" text-anchor="start" fill="#000" textLength="55.3" lengthAdjust="spacingAndGlyphs">TiO2/Clay</text>
<path d="M48.60,561.60 C48.94,561.60 51.31,561.73 52.00,561.60 C52.69,561.47 55.02,560.03 55.50,560.30 C55.98,560.57 56.54,563.20 56.80,564.30 C57.06,565.40 57.44,571.00 58.10,571.30 C58.76,571.60 62.43,567.39 63.40,567.30 C64.37,567.21 67.01,570.22 67.80,570.40 C68.59,570.58 70.08,568.75 71.30,569.10 C72.52,569.45 78.78,573.11 80.00,573.90 C81.22,574.69 82.45,576.43 83.50,577.00 C84.55,577.57 88.57,579.17 90.50,579.60 C92.43,580.03 100.85,581.06 102.80,581.30 C104.75,581.54 108.21,581.77 110.00,582.00 C111.79,582.23 118.32,582.84 120.70,583.60 C123.08,584.36 129.21,587.69 133.80,589.60 C138.39,591.51 160.47,600.30 166.60,602.70 C172.73,605.10 189.62,611.85 195.10,613.60 C200.58,615.35 216.91,619.25 221.40,620.20 C225.89,621.15 236.56,622.58 240.00,623.10 C243.44,623.62 250.93,624.90 255.80,625.40 C260.67,625.90 281.15,627.51 288.70,628.10 C296.25,628.69 327.04,630.98 331.30,631.30" fill="none" stroke="#3030ff" stroke-width="1.3" stroke-dasharray="1.6,2.5" stroke-linejoin="round"/>
<path d="M48.60,554.20 C48.94,555.47 51.31,565.32 52.00,566.90 C52.69,568.48 54.62,568.37 55.50,570.00 C56.38,571.63 59.63,580.48 60.80,583.20 C61.97,585.92 66.02,594.29 67.20,597.20 C68.38,600.11 71.63,609.07 72.60,612.30 C73.57,615.53 76.04,626.28 76.90,629.50 C77.76,632.72 80.34,642.46 81.20,644.50 C82.06,646.54 84.32,649.00 85.50,649.90 C86.68,650.80 90.36,653.25 93.00,653.50 C95.64,653.75 108.04,652.33 111.90,652.40 C115.76,652.47 127.22,653.26 131.60,654.20 C135.98,655.14 150.01,659.94 155.70,661.80 C161.39,663.66 182.81,671.20 188.50,672.80 C194.19,674.40 207.45,677.19 212.60,677.80 C217.75,678.41 234.03,678.61 240.00,678.90 C245.97,679.19 263.17,680.29 272.30,680.70 C281.43,681.11 325.40,682.77 331.30,683.00" fill="none" stroke="#ff3030" stroke-width="1.25" stroke-dasharray="4.2,4.8" stroke-linejoin="round"/>
<path d="M48.60,559.40 C49.12,560.15 52.91,565.44 53.80,566.90 C54.69,568.36 56.91,572.69 57.50,574.00 C58.09,575.31 59.27,577.57 59.70,580.00 C60.13,582.43 61.27,595.93 61.80,598.30 C62.33,600.67 64.14,601.87 65.00,603.70 C65.86,605.53 69.53,614.02 70.40,616.60 C71.27,619.18 73.05,626.06 73.70,629.50 C74.35,632.94 76.26,646.49 76.90,651.00 C77.54,655.51 79.46,669.66 80.10,674.60 C80.74,679.54 82.65,695.88 83.30,700.40 C83.95,704.92 85.95,716.79 86.60,719.80 C87.25,722.81 88.94,728.78 89.80,730.50 C90.66,732.22 93.91,736.14 95.20,737.00 C96.49,737.86 101.59,738.99 102.70,739.10 C103.81,739.21 105.57,738.05 106.30,738.10 C107.03,738.15 108.69,739.31 110.00,739.60 C111.31,739.89 117.06,741.00 119.40,741.00 C121.74,741.00 129.66,740.02 133.40,739.60 C137.14,739.18 150.14,737.31 156.80,736.80 C163.46,736.29 190.10,735.04 200.00,734.50 C209.90,733.96 242.67,731.78 255.80,731.40 C268.93,731.02 323.75,730.77 331.30,730.70" fill="none" stroke="#111" stroke-width="1.2" stroke-linejoin="round"/>
<rect x="48.50" y="540.00" width="282.80" height="213.50" fill="none" stroke="#222" stroke-width="1.3"/>
<text x="44.20" y="757.30" font-family="Liberation Serif" font-size="11.5" font-weight="bold" text-anchor="end" fill="#000">0.0</text>
<line x1="48.50" y1="732.15" x2="51.00" y2="732.15" stroke="#222" stroke-width="1.0"/>
<line x1="48.50" y1="710.80" x2="51.50" y2="710.80" stroke="#222" stroke-width="1.0"/>
<text x="44.20" y="714.60" font-family="Liberation Serif" font-size="11.5" font-weight="bold" text-anchor="end" fill="#000">0.2</text>
<line x1="48.50" y1="689.45" x2="51.00" y2="689.45" stroke="#222" stroke-width="1.0"/>
<line x1="48.50" y1="668.10" x2="51.50" y2="668.10" stroke="#222" stroke-width="1.0"/>
<text x="44.20" y="671.90" font-family="Liberation Serif" font-size="11.5" font-weight="bold" text-anchor="end" fill="#000">0.4</text>
<line x1="48.50" y1="646.75" x2="51.00" y2="646.75" stroke="#222" stroke-width="1.0"/>
<line x1="48.50" y1="625.40" x2="51.50" y2="625.40" stroke="#222" stroke-width="1.0"/>
<text x="44.20" y="629.20" font-family="Liberation Serif" font-size="11.5" font-weight="bold" text-anchor="end" fill="#000">0.6</text>
<line x1="48.50" y1="604.05" x2="51.00" y2="604.05" stroke="#222" stroke-width="1.0"/>
<line x1="48.50" y1="582.70" x2="51.50" y2="582.70" stroke="#222" stroke-width="1.0"/>
<text x="44.20" y="586.50" font-family="Liberation Serif" font-size="11.5" font-weight="bold" text-anchor="end" fill="#000">0.8</text>
<line x1="48.50" y1="561.35" x2="51.00" y2="561.35" stroke="#222" stroke-width="1.0"/>
<text x="44.20" y="543.80" font-family="Liberation Serif" font-size="11.5" font-weight="bold" text-anchor="end" fill="#000">1.0</text>
<line x1="79.70" y1="753.50" x2="79.70" y2="750.00" stroke="#222" stroke-width="1.0"/>
<text x="79.70" y="767.50" font-family="Liberation Serif" font-size="12.2" font-weight="bold" text-anchor="middle" fill="#000">400</text>
<line x1="142.80" y1="753.50" x2="142.80" y2="750.00" stroke="#222" stroke-width="1.0"/>
<line x1="205.90" y1="753.50" x2="205.90" y2="750.00" stroke="#222" stroke-width="1.0"/>
<text x="205.90" y="767.50" font-family="Liberation Serif" font-size="12.2" font-weight="bold" text-anchor="middle" fill="#000">600</text>
<line x1="269.00" y1="753.50" x2="269.00" y2="750.00" stroke="#222" stroke-width="1.0"/>
<text x="332.10" y="767.50" font-family="Liberation Serif" font-size="12.2" font-weight="bold" text-anchor="middle" fill="#000">800</text>
<text x="58.40" y="557.60" font-family="Liberation Serif" font-size="15" font-weight="bold" text-anchor="start" fill="#000">(e)</text>
<rect x="337.6" y="756" width="5" height="14" fill="#fff"/>
<text x="24.90" y="689.10" font-family="Liberation Serif" font-size="12" font-weight="bold" text-anchor="start" fill="#000" transform="rotate(-90 24.90 689.10)" textLength="95.4" lengthAdjust="spacingAndGlyphs">Absorption (a.u.)</text>
<text x="142.60" y="784.50" font-family="Liberation Serif" font-size="12.5" font-weight="bold" text-anchor="start" fill="#000" textLength="94.1" lengthAdjust="spacingAndGlyphs">Wavelength (nm)</text>
<rect x="252.50" y="539.90" width="79.00" height="55.30" fill="#fff" stroke="#111" stroke-width="1.3"/>
<line x1="254.20" y1="553.00" x2="271.60" y2="553.00" stroke="#2828ff" stroke-width="1.1" stroke-dasharray="1.3,1.8"/>
<text x="272.30" y="553.40" font-family="Liberation Serif" font-size="12" font-weight="bold" text-anchor="start" fill="#000" textLength="25.6" lengthAdjust="spacingAndGlyphs">Clay</text>
<line x1="254.20" y1="564.60" x2="271.60" y2="564.60" stroke="#ff2a2a" stroke-width="1.1" stroke-dasharray="3.5,2.5"/>
<text x="272.30" y="569.20" font-family="Liberation Serif" font-size="12" font-weight="bold" text-anchor="start" fill="#000" textLength="56.6" lengthAdjust="spacingAndGlyphs">TiO<tspan dy="2">2</tspan><tspan dy="-2">-Clay</tspan></text>
<line x1="254.20" y1="584.30" x2="271.60" y2="584.30" stroke="#111" stroke-width="1.1"/>
<text x="272.30" y="588.50" font-family="Liberation Serif" font-size="12" font-weight="bold" text-anchor="start" fill="#000" textLength="26.3" lengthAdjust="spacingAndGlyphs">TiO<tspan dy="2">2</tspan></text>
<path d="M383.80,721.30 C385.40,720.48 393.86,716.24 397.50,714.30 C401.14,712.36 410.90,707.25 415.00,704.70 C419.10,702.15 429.53,694.76 432.60,692.40 C435.67,690.04 439.26,686.65 441.30,684.50 C443.34,682.35 448.23,676.66 450.10,674.00 C451.97,671.34 454.59,665.70 457.30,661.70 C460.01,657.70 470.31,644.20 473.30,639.70 C476.29,635.20 480.65,627.18 482.90,623.10 C485.15,619.02 490.65,608.39 492.60,604.70 C494.55,601.01 497.97,594.06 499.60,591.50 C501.23,588.94 504.77,585.25 506.60,582.80 C508.43,580.35 513.47,573.16 515.30,570.50 C517.13,567.84 520.93,562.04 522.30,560.00 C523.66,557.96 525.76,555.39 527.00,553.00 C528.24,550.61 532.21,541.08 532.90,539.50" fill="none" stroke="#3030ff" stroke-width="1.3" stroke-dasharray="1.6,2.5" stroke-linejoin="round"/>
<path d="M383.80,741.80 C386.05,741.47 402.30,739.15 406.30,738.50 C410.30,737.85 420.30,736.23 423.80,735.30 C427.30,734.37 437.80,730.69 441.30,729.20 C444.80,727.71 455.29,722.24 458.80,720.40 C462.31,718.56 473.42,712.64 476.40,710.80 C479.38,708.96 486.33,703.40 488.60,702.00 C490.87,700.60 497.04,697.75 499.10,696.80 C501.16,695.85 507.34,693.17 509.20,692.50 C511.06,691.83 516.25,690.52 517.70,690.10 C519.15,689.68 522.50,688.84 523.70,688.30 C524.90,687.76 528.62,685.43 529.70,684.70 C530.78,683.97 533.42,682.03 534.50,681.00 C535.58,679.97 539.54,675.78 540.50,674.40 C541.46,673.02 543.50,668.64 544.10,667.20 C544.70,665.76 546.05,661.61 546.50,660.00 C546.95,658.39 548.21,653.39 548.60,651.10 C548.99,648.81 550.05,640.60 550.40,637.10 C550.75,633.60 551.66,620.31 552.10,616.10 C552.54,611.89 554.36,598.86 554.80,595.00 C555.24,591.14 556.07,580.65 556.50,577.50 C556.93,574.35 558.50,565.95 559.10,563.50 C559.70,561.05 561.66,555.30 562.50,553.00 C563.34,550.70 567.00,541.75 567.50,540.50" fill="none" stroke="#ff3030" stroke-width="1.25" stroke-dasharray="4.2,4.8" stroke-linejoin="round"/>
<polyline points="515.90,752.20 543.50,668.00" fill="none" stroke="#ff3030" stroke-width="1.25" stroke-dasharray="4.2,4.8" stroke-linejoin="round" />
<path d="M383.80,742.30 C385.68,742.08 402.23,740.06 406.30,739.70 C410.37,739.34 428.52,738.26 432.60,738.00 C436.68,737.74 451.35,736.70 455.30,736.60 C459.25,736.50 477.11,736.72 480.00,736.80 C482.89,736.88 488.92,737.65 490.00,737.60 C491.08,737.55 492.50,736.22 493.00,736.20 C493.50,736.18 495.50,737.40 496.00,737.40 C496.50,737.40 498.50,736.24 499.00,736.20 C499.50,736.16 501.50,736.97 502.00,736.90 C502.50,736.83 504.50,735.51 505.00,735.40 C505.50,735.29 507.50,735.73 508.00,735.60 C508.50,735.47 510.49,734.03 511.00,733.80 C511.51,733.57 513.44,732.90 514.10,732.80 C514.76,732.70 518.10,732.77 518.90,732.60 C519.70,732.43 523.00,731.13 523.70,730.70 C524.40,730.27 526.70,728.08 527.30,727.40 C527.90,726.72 530.35,723.51 530.90,722.50 C531.45,721.49 533.45,716.60 533.90,715.30 C534.35,714.00 535.95,708.50 536.30,706.90 C536.65,705.30 537.85,698.00 538.10,696.10 C538.35,694.20 539.10,686.11 539.30,684.10 C539.50,682.09 540.27,674.01 540.50,672.00 C540.73,669.99 541.62,662.77 542.00,660.00 C542.38,657.23 544.55,642.90 545.10,638.80 C545.65,634.70 548.02,615.91 548.60,610.80 C549.18,605.69 551.54,582.58 552.10,577.50 C552.66,572.42 554.92,552.99 555.30,549.80 C555.67,546.61 556.49,540.08 556.60,539.20" fill="none" stroke="#222" stroke-width="1.0" stroke-linejoin="round"/>
<polyline points="524.90,752.20 545.90,673.80" fill="none" stroke="#222" stroke-width="1.0" stroke-dasharray="3.5,3" stroke-linejoin="round" />
<rect x="383.60" y="539.00" width="283.40" height="213.50" fill="none" stroke="#222" stroke-width="1.3"/>
<text x="379.40" y="756.60" font-family="Liberation Serif" font-size="12.2" font-weight="bold" text-anchor="end" fill="#000">0</text>
<line x1="383.60" y1="716.92" x2="386.10" y2="716.92" stroke="#222" stroke-width="1.0"/>
<line x1="383.60" y1="681.33" x2="386.60" y2="681.33" stroke="#222" stroke-width="1.0"/>
<text x="379.40" y="685.43" font-family="Liberation Serif" font-size="12.2" font-weight="bold" text-anchor="end" fill="#000">2</text>
<line x1="383.60" y1="645.75" x2="386.10" y2="645.75" stroke="#222" stroke-width="1.0"/>
<line x1="383.60" y1="610.17" x2="386.60" y2="610.17" stroke="#222" stroke-width="1.0"/>
<text x="379.40" y="614.27" font-family="Liberation Serif" font-size="12.2" font-weight="bold" text-anchor="end" fill="#000">4</text>
<line x1="383.60" y1="574.58" x2="386.10" y2="574.58" stroke="#222" stroke-width="1.0"/>
<text x="379.40" y="543.10" font-family="Liberation Serif" font-size="12.2" font-weight="bold" text-anchor="end" fill="#000">6</text>
<line x1="405.00" y1="752.50" x2="405.00" y2="749.00" stroke="#222" stroke-width="1.0"/>
<text x="405.00" y="766.80" font-family="Liberation Serif" font-size="12" font-weight="bold" text-anchor="middle" fill="#000">2.0</text>
<line x1="432.23" y1="752.50" x2="432.23" y2="750.00" stroke="#222" stroke-width="1.0"/>
<line x1="459.45" y1="752.50" x2="459.45" y2="749.00" stroke="#222" stroke-width="1.0"/>
<text x="459.45" y="766.80" font-family="Liberation Serif" font-size="12" font-weight="bold" text-anchor="middle" fill="#000">2.5</text>
<line x1="486.68" y1="752.50" x2="486.68" y2="750.00" stroke="#222" stroke-width="1.0"/>
<line x1="513.90" y1="752.50" x2="513.90" y2="749.00" stroke="#222" stroke-width="1.0"/>
<text x="513.90" y="766.80" font-family="Liberation Serif" font-size="12" font-weight="bold" text-anchor="middle" fill="#000">3.0</text>
<line x1="541.12" y1="752.50" x2="541.12" y2="750.00" stroke="#222" stroke-width="1.0"/>
<line x1="568.35" y1="752.50" x2="568.35" y2="749.00" stroke="#222" stroke-width="1.0"/>
<text x="568.35" y="766.80" font-family="Liberation Serif" font-size="12" font-weight="bold" text-anchor="middle" fill="#000">3.5</text>
<line x1="595.58" y1="752.50" x2="595.58" y2="750.00" stroke="#222" stroke-width="1.0"/>
<line x1="622.80" y1="752.50" x2="622.80" y2="749.00" stroke="#222" stroke-width="1.0"/>
<text x="622.80" y="766.80" font-family="Liberation Serif" font-size="12" font-weight="bold" text-anchor="middle" fill="#000">4.0</text>
<line x1="650.02" y1="752.50" x2="650.02" y2="750.00" stroke="#222" stroke-width="1.0"/>
<text x="392.20" y="559.00" font-family="Liberation Serif" font-size="14.5" font-weight="bold" text-anchor="start" fill="#000">(f)</text>
<text x="365.20" y="662.40" font-family="Liberation Serif" font-size="12.5" font-weight="normal" text-anchor="start" font-style="italic" fill="#000" transform="rotate(-90 365.20 662.40)" textLength="34" lengthAdjust="spacingAndGlyphs">(ahv)<tspan font-size="9" dy="-5">2</tspan></text>
<text x="499.70" y="785.00" font-family="Liberation Serif" font-size="12.5" font-weight="bold" text-anchor="start" fill="#000" textLength="38" lengthAdjust="spacingAndGlyphs"><tspan font-style="italic">hv</tspan> (eV)</text>
<rect x="589.50" y="539.20" width="77.70" height="56.60" fill="#fff" stroke="#111" stroke-width="1.3"/>
<line x1="590.50" y1="548.10" x2="606.00" y2="548.10" stroke="#111" stroke-width="1.1"/>
<text x="607.00" y="552.60" font-family="Liberation Serif" font-size="12" font-weight="bold" text-anchor="start" fill="#000" textLength="28" lengthAdjust="spacingAndGlyphs">TiO<tspan dy="2">2</tspan></text>
<line x1="590.50" y1="567.90" x2="606.00" y2="567.90" stroke="#ff2a2a" stroke-width="1.1" stroke-dasharray="3.5,2.5"/>
<text x="607.00" y="572.20" font-family="Liberation Serif" font-size="12" font-weight="bold" text-anchor="start" fill="#000" textLength="57.6" lengthAdjust="spacingAndGlyphs">TiO<tspan dy="2">2</tspan><tspan dy="-2">-Clay</tspan></text>
<line x1="590.50" y1="590.20" x2="606.00" y2="590.20" stroke="#2828ff" stroke-width="1.1" stroke-dasharray="1.3,1.8"/>
<text x="610.30" y="592.30" font-family="Liberation Serif" font-size="12" font-weight="bold" text-anchor="start" fill="#000" textLength="24" lengthAdjust="spacingAndGlyphs">Clay</text>
</svg>
</body></html>
